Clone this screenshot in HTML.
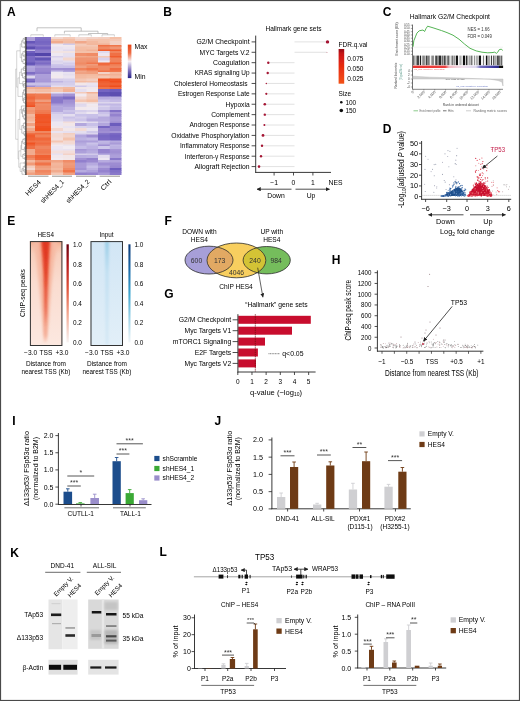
<!DOCTYPE html>
<html><head><meta charset="utf-8"><style>
html,body{margin:0;padding:0;background:#fff;}
svg{display:block;}
text{font-family:"Liberation Sans",sans-serif;}
</style></head><body>
<svg width="520" height="701" viewBox="0 0 520 701">
<defs><filter id="gblur" x="0" y="0" width="100%" height="100%"><feGaussianBlur stdDeviation="0.3"/></filter></defs>
<g filter="url(#gblur)">
<rect x="0" y="0" width="520" height="701" fill="#fff"/>
<text x="7" y="15.8" font-size="12" font-weight="bold" fill="#000">A</text>
<defs><filter id="hmb" x="-2%" y="-2%" width="104%" height="104%"><feGaussianBlur stdDeviation="0.25 0.45"/></filter></defs><g filter="url(#hmb)">
<rect x="26" y="37" width="9.6" height="2.5" fill="#aea0da"/>
<rect x="35" y="37" width="16.6" height="2.5" fill="#8271c7"/>
<rect x="26" y="39" width="9.6" height="2.5" fill="#ab9dd9"/>
<rect x="35" y="39" width="16.6" height="2.5" fill="#7c6cc5"/>
<rect x="26" y="41" width="9.6" height="3" fill="#6657b9"/>
<rect x="35" y="41" width="16.6" height="3" fill="#7665c2"/>
<rect x="26" y="43.5" width="9.6" height="2" fill="#8372c7"/>
<rect x="35" y="43.5" width="16.6" height="2" fill="#7a6ac4"/>
<rect x="26" y="45" width="9.6" height="2" fill="#8473c8"/>
<rect x="35" y="45" width="16.6" height="2" fill="#8a78ca"/>
<rect x="26" y="46.5" width="9.6" height="3.5" fill="#5b4db0"/>
<rect x="35" y="46.5" width="16.6" height="3.5" fill="#7464c2"/>
<rect x="26" y="49.5" width="9.6" height="2" fill="#c7bfe7"/>
<rect x="35" y="49.5" width="16.6" height="2" fill="#8d7bcb"/>
<rect x="26" y="51" width="9.6" height="2.5" fill="#6f5fbf"/>
<rect x="35" y="51" width="16.6" height="2.5" fill="#8d7ccb"/>
<rect x="26" y="53" width="9.6" height="3.5" fill="#5f51b4"/>
<rect x="35" y="53" width="16.6" height="3.5" fill="#5245aa"/>
<rect x="26" y="56" width="9.6" height="2" fill="#7e6dc5"/>
<rect x="35" y="56" width="16.6" height="2" fill="#9e8dd2"/>
<rect x="26" y="57.5" width="9.6" height="3.5" fill="#7868c3"/>
<rect x="35" y="57.5" width="16.6" height="3.5" fill="#6254b6"/>
<rect x="26" y="60.5" width="9.6" height="2.5" fill="#7867c3"/>
<rect x="35" y="60.5" width="16.6" height="2.5" fill="#8877c9"/>
<rect x="26" y="62.5" width="9.6" height="2" fill="#6354b6"/>
<rect x="35" y="62.5" width="16.6" height="2" fill="#7b6bc4"/>
<rect x="26" y="64" width="9.6" height="2" fill="#6859ba"/>
<rect x="35" y="64" width="16.6" height="2" fill="#8776c9"/>
<rect x="26" y="65.5" width="9.6" height="3" fill="#b4a8de"/>
<rect x="35" y="65.5" width="16.6" height="3" fill="#a697d6"/>
<rect x="26" y="68" width="9.6" height="3" fill="#afa1db"/>
<rect x="35" y="68" width="16.6" height="3" fill="#9b89d0"/>
<rect x="26" y="70.5" width="9.6" height="2" fill="#a99bd8"/>
<rect x="35" y="70.5" width="16.6" height="2" fill="#9785cf"/>
<rect x="26" y="72" width="9.6" height="2.5" fill="#7e6dc5"/>
<rect x="35" y="72" width="16.6" height="2.5" fill="#907ecc"/>
<rect x="26" y="74" width="9.6" height="2" fill="#9583ce"/>
<rect x="35" y="74" width="16.6" height="2" fill="#ad9fda"/>
<rect x="26" y="75.5" width="9.6" height="3.5" fill="#ddd6ed"/>
<rect x="35" y="75.5" width="16.6" height="3.5" fill="#ac9ed9"/>
<rect x="26" y="78.5" width="9.6" height="3" fill="#8170c6"/>
<rect x="35" y="78.5" width="16.6" height="3" fill="#a99ad8"/>
<rect x="26" y="81" width="9.6" height="2" fill="#7262c1"/>
<rect x="35" y="81" width="16.6" height="2" fill="#a798d7"/>
<rect x="26" y="82.5" width="9.6" height="3.5" fill="#cac2e8"/>
<rect x="35" y="82.5" width="16.6" height="3.5" fill="#c7bfe7"/>
<rect x="26" y="85.5" width="9.6" height="2" fill="#9d8bd1"/>
<rect x="35" y="85.5" width="16.6" height="2" fill="#b2a5dc"/>
<rect x="26" y="87" width="9.6" height="2.5" fill="#f2af93"/>
<rect x="35" y="87" width="16.6" height="2.5" fill="#f1ab8e"/>
<rect x="26" y="89" width="9.6" height="3.5" fill="#f4c3ae"/>
<rect x="35" y="89" width="16.6" height="3.5" fill="#f4bda4"/>
<rect x="26" y="92" width="9.6" height="2" fill="#f3cec0"/>
<rect x="35" y="92" width="16.6" height="2" fill="#f3cdbf"/>
<rect x="26" y="93.5" width="9.6" height="3.5" fill="#f0744a"/>
<rect x="35" y="93.5" width="16.6" height="3.5" fill="#f07b52"/>
<rect x="26" y="96.5" width="9.6" height="3.5" fill="#f0683c"/>
<rect x="35" y="96.5" width="16.6" height="3.5" fill="#f07a51"/>
<rect x="26" y="99.5" width="9.6" height="3" fill="#f0764d"/>
<rect x="35" y="99.5" width="16.6" height="3" fill="#f09c7b"/>
<rect x="26" y="102" width="9.6" height="2" fill="#f06539"/>
<rect x="35" y="102" width="16.6" height="2" fill="#f07950"/>
<rect x="26" y="103.5" width="9.6" height="2.5" fill="#f06236"/>
<rect x="35" y="103.5" width="16.6" height="2.5" fill="#f08d68"/>
<rect x="26" y="105.5" width="9.6" height="2" fill="#f05020"/>
<rect x="35" y="105.5" width="16.6" height="2" fill="#f08862"/>
<rect x="26" y="107" width="9.6" height="3.5" fill="#f09d7c"/>
<rect x="35" y="107" width="16.6" height="3.5" fill="#f08862"/>
<rect x="26" y="110" width="9.6" height="2.5" fill="#f09673"/>
<rect x="35" y="110" width="16.6" height="2.5" fill="#f07c53"/>
<rect x="26" y="112" width="9.6" height="2.5" fill="#f09b79"/>
<rect x="35" y="112" width="16.6" height="2.5" fill="#f0774e"/>
<rect x="26" y="114" width="9.6" height="3" fill="#f3b9a0"/>
<rect x="35" y="114" width="16.6" height="3" fill="#f05829"/>
<rect x="26" y="116.5" width="9.6" height="2.5" fill="#f2af93"/>
<rect x="35" y="116.5" width="16.6" height="2.5" fill="#f05728"/>
<rect x="26" y="118.5" width="9.6" height="3.5" fill="#f3b69b"/>
<rect x="35" y="118.5" width="16.6" height="3.5" fill="#f0592b"/>
<rect x="26" y="121.5" width="9.6" height="2" fill="#f4c7b4"/>
<rect x="35" y="121.5" width="16.6" height="2" fill="#f05222"/>
<rect x="26" y="123" width="9.6" height="3.5" fill="#f0a182"/>
<rect x="35" y="123" width="16.6" height="3.5" fill="#f05b2d"/>
<rect x="26" y="126" width="9.6" height="2.5" fill="#f4c2ab"/>
<rect x="35" y="126" width="16.6" height="2.5" fill="#f05122"/>
<rect x="26" y="128" width="9.6" height="3.5" fill="#f1a98b"/>
<rect x="35" y="128" width="16.6" height="3.5" fill="#f04f1f"/>
<rect x="26" y="131" width="9.6" height="2.5" fill="#f0916d"/>
<rect x="35" y="131" width="16.6" height="2.5" fill="#f08761"/>
<rect x="26" y="133" width="9.6" height="2" fill="#f07146"/>
<rect x="35" y="133" width="16.6" height="2" fill="#f06c41"/>
<rect x="26" y="134.5" width="9.6" height="3.5" fill="#f05b2d"/>
<rect x="35" y="134.5" width="16.6" height="3.5" fill="#f08159"/>
<rect x="26" y="137.5" width="9.6" height="3.5" fill="#f06235"/>
<rect x="35" y="137.5" width="16.6" height="3.5" fill="#f0673b"/>
<rect x="26" y="140.5" width="9.6" height="2.5" fill="#f07247"/>
<rect x="35" y="140.5" width="16.6" height="2.5" fill="#f0754b"/>
<rect x="26" y="142.5" width="9.6" height="2.5" fill="#f05223"/>
<rect x="35" y="142.5" width="16.6" height="2.5" fill="#f06a3f"/>
<rect x="26" y="144.5" width="9.6" height="2" fill="#f06539"/>
<rect x="35" y="144.5" width="16.6" height="2" fill="#f07950"/>
<rect x="26" y="146" width="9.6" height="3.5" fill="#f07045"/>
<rect x="35" y="146" width="16.6" height="3.5" fill="#f0855e"/>
<rect x="26" y="149" width="9.6" height="2" fill="#f1aa8d"/>
<rect x="35" y="149" width="16.6" height="2" fill="#f07c54"/>
<rect x="26" y="150.5" width="9.6" height="3.5" fill="#f1ab8e"/>
<rect x="35" y="150.5" width="16.6" height="3.5" fill="#f07a51"/>
<rect x="26" y="153.5" width="9.6" height="2" fill="#f2ac90"/>
<rect x="35" y="153.5" width="16.6" height="2" fill="#f0845d"/>
<rect x="26" y="155" width="9.6" height="3.5" fill="#f07d55"/>
<rect x="35" y="155" width="16.6" height="3.5" fill="#f06033"/>
<rect x="26" y="158" width="9.6" height="2.5" fill="#f08c67"/>
<rect x="35" y="158" width="16.6" height="2.5" fill="#f06539"/>
<rect x="26" y="160" width="9.6" height="3" fill="#f3bba2"/>
<rect x="35" y="160" width="16.6" height="3" fill="#f09573"/>
<rect x="26" y="162.5" width="9.6" height="3.5" fill="#f09a78"/>
<rect x="35" y="162.5" width="16.6" height="3.5" fill="#f07349"/>
<rect x="26" y="165.5" width="9.6" height="3" fill="#f3cdbe"/>
<rect x="35" y="165.5" width="16.6" height="3" fill="#f09b79"/>
<rect x="26" y="168" width="9.6" height="2.5" fill="#f3d9d2"/>
<rect x="35" y="168" width="16.6" height="2.5" fill="#f0a384"/>
<rect x="26" y="170" width="9.6" height="3" fill="#f3b79d"/>
<rect x="35" y="170" width="16.6" height="3" fill="#f0855e"/>
<rect x="26" y="172.5" width="9.6" height="2.5" fill="#f0a182"/>
<rect x="35" y="172.5" width="16.6" height="2.5" fill="#f0916d"/>
<rect x="51" y="37" width="12.6" height="2.5" fill="#f3d7cf"/>
<rect x="63" y="37" width="12.6" height="2.5" fill="#f4cbba"/>
<rect x="51" y="39" width="12.6" height="2.5" fill="#f4bfa6"/>
<rect x="63" y="39" width="12.6" height="2.5" fill="#f4bea6"/>
<rect x="51" y="41" width="12.6" height="3" fill="#f1ab8d"/>
<rect x="63" y="41" width="12.6" height="3" fill="#f3bba2"/>
<rect x="51" y="43.5" width="12.6" height="2" fill="#eae4f0"/>
<rect x="63" y="43.5" width="12.6" height="2" fill="#d2cbea"/>
<rect x="51" y="45" width="12.6" height="2" fill="#f2ebf0"/>
<rect x="63" y="45" width="12.6" height="2" fill="#f2e9ed"/>
<rect x="51" y="46.5" width="12.6" height="3.5" fill="#e9e2f0"/>
<rect x="63" y="46.5" width="12.6" height="3.5" fill="#ece5f1"/>
<rect x="51" y="49.5" width="12.6" height="2" fill="#ebe4f0"/>
<rect x="63" y="49.5" width="12.6" height="2" fill="#e1daee"/>
<rect x="51" y="51" width="12.6" height="2.5" fill="#f2e4e4"/>
<rect x="63" y="51" width="12.6" height="2.5" fill="#f2e3e2"/>
<rect x="51" y="53" width="12.6" height="3.5" fill="#eee8f1"/>
<rect x="63" y="53" width="12.6" height="3.5" fill="#e6e0ef"/>
<rect x="51" y="56" width="12.6" height="2" fill="#d8d0ec"/>
<rect x="63" y="56" width="12.6" height="2" fill="#e4ddef"/>
<rect x="51" y="57.5" width="12.6" height="3.5" fill="#e8e1f0"/>
<rect x="63" y="57.5" width="12.6" height="3.5" fill="#f3d7ce"/>
<rect x="51" y="60.5" width="12.6" height="2.5" fill="#dcd5ed"/>
<rect x="63" y="60.5" width="12.6" height="2.5" fill="#e3ddef"/>
<rect x="51" y="62.5" width="12.6" height="2" fill="#dfd9ee"/>
<rect x="63" y="62.5" width="12.6" height="2" fill="#d4cdeb"/>
<rect x="51" y="64" width="12.6" height="2" fill="#cec7ea"/>
<rect x="63" y="64" width="12.6" height="2" fill="#d8d0ec"/>
<rect x="51" y="65.5" width="12.6" height="3" fill="#c8bfe8"/>
<rect x="63" y="65.5" width="12.6" height="3" fill="#c7bee7"/>
<rect x="51" y="68" width="12.6" height="3" fill="#a08fd3"/>
<rect x="63" y="68" width="12.6" height="3" fill="#9e8dd2"/>
<rect x="51" y="70.5" width="12.6" height="2" fill="#cac2e8"/>
<rect x="63" y="70.5" width="12.6" height="2" fill="#b2a6dd"/>
<rect x="51" y="72" width="12.6" height="2.5" fill="#eee8f1"/>
<rect x="63" y="72" width="12.6" height="2.5" fill="#e8e2f0"/>
<rect x="51" y="74" width="12.6" height="2" fill="#efe9f1"/>
<rect x="63" y="74" width="12.6" height="2" fill="#e4deef"/>
<rect x="51" y="75.5" width="12.6" height="3.5" fill="#f2e9ed"/>
<rect x="63" y="75.5" width="12.6" height="3.5" fill="#ebe4f0"/>
<rect x="51" y="78.5" width="12.6" height="3" fill="#d4cceb"/>
<rect x="63" y="78.5" width="12.6" height="3" fill="#d7d0ec"/>
<rect x="51" y="81" width="12.6" height="2" fill="#bfb5e3"/>
<rect x="63" y="81" width="12.6" height="2" fill="#cfc8ea"/>
<rect x="51" y="82.5" width="12.6" height="3.5" fill="#d4cdeb"/>
<rect x="63" y="82.5" width="12.6" height="3.5" fill="#d5ceeb"/>
<rect x="51" y="85.5" width="12.6" height="2" fill="#e5deef"/>
<rect x="63" y="85.5" width="12.6" height="2" fill="#dfd8ed"/>
<rect x="51" y="87" width="12.6" height="2.5" fill="#f4c0a7"/>
<rect x="63" y="87" width="12.6" height="2.5" fill="#f3b9a0"/>
<rect x="51" y="89" width="12.6" height="3.5" fill="#f4c9b6"/>
<rect x="63" y="89" width="12.6" height="3.5" fill="#f2b296"/>
<rect x="51" y="92" width="12.6" height="2" fill="#e8e2f0"/>
<rect x="63" y="92" width="12.6" height="2" fill="#e1daee"/>
<rect x="51" y="93.5" width="12.6" height="3.5" fill="#afa1db"/>
<rect x="63" y="93.5" width="12.6" height="3.5" fill="#a393d5"/>
<rect x="51" y="96.5" width="12.6" height="3.5" fill="#8978ca"/>
<rect x="63" y="96.5" width="12.6" height="3.5" fill="#7c6cc5"/>
<rect x="51" y="99.5" width="12.6" height="3" fill="#8978ca"/>
<rect x="63" y="99.5" width="12.6" height="3" fill="#a190d3"/>
<rect x="51" y="102" width="12.6" height="2" fill="#8b79ca"/>
<rect x="63" y="102" width="12.6" height="2" fill="#a393d5"/>
<rect x="51" y="103.5" width="12.6" height="2.5" fill="#a798d7"/>
<rect x="63" y="103.5" width="12.6" height="2.5" fill="#aa9cd9"/>
<rect x="51" y="105.5" width="12.6" height="2" fill="#b7abdf"/>
<rect x="63" y="105.5" width="12.6" height="2" fill="#b0a3dc"/>
<rect x="51" y="107" width="12.6" height="3.5" fill="#b4a8de"/>
<rect x="63" y="107" width="12.6" height="3.5" fill="#bbb0e1"/>
<rect x="51" y="110" width="12.6" height="2.5" fill="#b6aade"/>
<rect x="63" y="110" width="12.6" height="2.5" fill="#cbc3e9"/>
<rect x="51" y="112" width="12.6" height="2.5" fill="#cfc7ea"/>
<rect x="63" y="112" width="12.6" height="2.5" fill="#c4bbe6"/>
<rect x="51" y="114" width="12.6" height="3" fill="#dbd4ec"/>
<rect x="63" y="114" width="12.6" height="3" fill="#e4deef"/>
<rect x="51" y="116.5" width="12.6" height="2.5" fill="#dcd5ed"/>
<rect x="63" y="116.5" width="12.6" height="2.5" fill="#cac2e8"/>
<rect x="51" y="118.5" width="12.6" height="3.5" fill="#e0daee"/>
<rect x="63" y="118.5" width="12.6" height="3.5" fill="#d4cceb"/>
<rect x="51" y="121.5" width="12.6" height="2" fill="#ede7f1"/>
<rect x="63" y="121.5" width="12.6" height="2" fill="#f3dedb"/>
<rect x="51" y="123" width="12.6" height="3.5" fill="#ede6f1"/>
<rect x="63" y="123" width="12.6" height="3.5" fill="#f2e6e8"/>
<rect x="51" y="126" width="12.6" height="2.5" fill="#f2e7ea"/>
<rect x="63" y="126" width="12.6" height="2.5" fill="#eae3f0"/>
<rect x="51" y="128" width="12.6" height="3.5" fill="#f3d6ce"/>
<rect x="63" y="128" width="12.6" height="3.5" fill="#f2e7e9"/>
<rect x="51" y="131" width="12.6" height="2.5" fill="#eae4f0"/>
<rect x="63" y="131" width="12.6" height="2.5" fill="#e7e0ef"/>
<rect x="51" y="133" width="12.6" height="2" fill="#f3dad4"/>
<rect x="63" y="133" width="12.6" height="2" fill="#f3cebf"/>
<rect x="51" y="134.5" width="12.6" height="3.5" fill="#f3d9d2"/>
<rect x="63" y="134.5" width="12.6" height="3.5" fill="#f3d4c9"/>
<rect x="51" y="137.5" width="12.6" height="3.5" fill="#f3deda"/>
<rect x="63" y="137.5" width="12.6" height="3.5" fill="#f4c3ad"/>
<rect x="51" y="140.5" width="12.6" height="2.5" fill="#f4c6b3"/>
<rect x="63" y="140.5" width="12.6" height="2.5" fill="#f3d9d2"/>
<rect x="51" y="142.5" width="12.6" height="2.5" fill="#f3dfdd"/>
<rect x="63" y="142.5" width="12.6" height="2.5" fill="#f3dad3"/>
<rect x="51" y="144.5" width="12.6" height="2" fill="#f2eaef"/>
<rect x="63" y="144.5" width="12.6" height="2" fill="#ebe5f0"/>
<rect x="51" y="146" width="12.6" height="3.5" fill="#ede6f1"/>
<rect x="63" y="146" width="12.6" height="3.5" fill="#f2ecf2"/>
<rect x="51" y="149" width="12.6" height="2" fill="#ebe4f0"/>
<rect x="63" y="149" width="12.6" height="2" fill="#e9e2f0"/>
<rect x="51" y="150.5" width="12.6" height="3.5" fill="#f3dfdd"/>
<rect x="63" y="150.5" width="12.6" height="3.5" fill="#f3ddda"/>
<rect x="51" y="153.5" width="12.6" height="2" fill="#e8e1f0"/>
<rect x="63" y="153.5" width="12.6" height="2" fill="#f3d2c7"/>
<rect x="51" y="155" width="12.6" height="3.5" fill="#f2e8ec"/>
<rect x="63" y="155" width="12.6" height="3.5" fill="#f2e6e7"/>
<rect x="51" y="158" width="12.6" height="2.5" fill="#f2ebf0"/>
<rect x="63" y="158" width="12.6" height="2.5" fill="#f2e7e9"/>
<rect x="51" y="160" width="12.6" height="3" fill="#f1a485"/>
<rect x="63" y="160" width="12.6" height="3" fill="#f08c67"/>
<rect x="51" y="162.5" width="12.6" height="3.5" fill="#f3b69c"/>
<rect x="63" y="162.5" width="12.6" height="3.5" fill="#f09b7a"/>
<rect x="51" y="165.5" width="12.6" height="3" fill="#f2b297"/>
<rect x="63" y="165.5" width="12.6" height="3" fill="#f09673"/>
<rect x="51" y="168" width="12.6" height="2.5" fill="#f3baa0"/>
<rect x="63" y="168" width="12.6" height="2.5" fill="#f08963"/>
<rect x="51" y="170" width="12.6" height="3" fill="#f1ab8e"/>
<rect x="63" y="170" width="12.6" height="3" fill="#f0744a"/>
<rect x="51" y="172.5" width="12.6" height="2.5" fill="#f4c7b4"/>
<rect x="63" y="172.5" width="12.6" height="2.5" fill="#f0a080"/>
<rect x="75" y="37" width="12.1" height="2.5" fill="#f3dad3"/>
<rect x="86.5" y="37" width="12.1" height="2.5" fill="#f3d3c8"/>
<rect x="75" y="39" width="12.1" height="2.5" fill="#f3d1c5"/>
<rect x="86.5" y="39" width="12.1" height="2.5" fill="#f4c3ad"/>
<rect x="75" y="41" width="12.1" height="3" fill="#f1a88a"/>
<rect x="86.5" y="41" width="12.1" height="3" fill="#f3b99f"/>
<rect x="75" y="43.5" width="12.1" height="2" fill="#f4cab8"/>
<rect x="86.5" y="43.5" width="12.1" height="2" fill="#f3b79c"/>
<rect x="75" y="45" width="12.1" height="2" fill="#f4c9b6"/>
<rect x="86.5" y="45" width="12.1" height="2" fill="#f4c8b5"/>
<rect x="75" y="46.5" width="12.1" height="3.5" fill="#f4bea5"/>
<rect x="86.5" y="46.5" width="12.1" height="3.5" fill="#f4c0a8"/>
<rect x="75" y="49.5" width="12.1" height="2" fill="#f3bba2"/>
<rect x="86.5" y="49.5" width="12.1" height="2" fill="#f2b195"/>
<rect x="75" y="51" width="12.1" height="2.5" fill="#f4c1a9"/>
<rect x="86.5" y="51" width="12.1" height="2.5" fill="#f4c1aa"/>
<rect x="75" y="53" width="12.1" height="3.5" fill="#f0906c"/>
<rect x="86.5" y="53" width="12.1" height="3.5" fill="#f08b65"/>
<rect x="75" y="56" width="12.1" height="2" fill="#f1a98b"/>
<rect x="86.5" y="56" width="12.1" height="2" fill="#f1a586"/>
<rect x="75" y="57.5" width="12.1" height="3.5" fill="#f09471"/>
<rect x="86.5" y="57.5" width="12.1" height="3.5" fill="#f09573"/>
<rect x="75" y="60.5" width="12.1" height="2.5" fill="#f0936f"/>
<rect x="86.5" y="60.5" width="12.1" height="2.5" fill="#f08e6a"/>
<rect x="75" y="62.5" width="12.1" height="2" fill="#f08b65"/>
<rect x="86.5" y="62.5" width="12.1" height="2" fill="#f0784f"/>
<rect x="75" y="64" width="12.1" height="2" fill="#f0916d"/>
<rect x="86.5" y="64" width="12.1" height="2" fill="#f09b7a"/>
<rect x="75" y="65.5" width="12.1" height="3" fill="#f0a182"/>
<rect x="86.5" y="65.5" width="12.1" height="3" fill="#f08f6a"/>
<rect x="75" y="68" width="12.1" height="3" fill="#f0845c"/>
<rect x="86.5" y="68" width="12.1" height="3" fill="#f0774e"/>
<rect x="75" y="70.5" width="12.1" height="2" fill="#f1a88b"/>
<rect x="86.5" y="70.5" width="12.1" height="2" fill="#f09a79"/>
<rect x="75" y="72" width="12.1" height="2.5" fill="#f0a283"/>
<rect x="86.5" y="72" width="12.1" height="2.5" fill="#f09f7e"/>
<rect x="75" y="74" width="12.1" height="2" fill="#f3b79c"/>
<rect x="86.5" y="74" width="12.1" height="2" fill="#f3b99f"/>
<rect x="75" y="75.5" width="12.1" height="3.5" fill="#f3bba2"/>
<rect x="86.5" y="75.5" width="12.1" height="3.5" fill="#f4bfa6"/>
<rect x="75" y="78.5" width="12.1" height="3" fill="#f4c7b4"/>
<rect x="86.5" y="78.5" width="12.1" height="3" fill="#f3cec0"/>
<rect x="75" y="81" width="12.1" height="2" fill="#f3baa1"/>
<rect x="86.5" y="81" width="12.1" height="2" fill="#f4bfa7"/>
<rect x="75" y="82.5" width="12.1" height="3.5" fill="#f2e7e9"/>
<rect x="86.5" y="82.5" width="12.1" height="3.5" fill="#eae4f0"/>
<rect x="75" y="85.5" width="12.1" height="2" fill="#cfc8ea"/>
<rect x="86.5" y="85.5" width="12.1" height="2" fill="#e4ddef"/>
<rect x="75" y="87" width="12.1" height="2.5" fill="#f2e7e9"/>
<rect x="86.5" y="87" width="12.1" height="2.5" fill="#f2e8eb"/>
<rect x="75" y="89" width="12.1" height="3.5" fill="#e6dfef"/>
<rect x="86.5" y="89" width="12.1" height="3.5" fill="#f0eaf1"/>
<rect x="75" y="92" width="12.1" height="2" fill="#f4cbba"/>
<rect x="86.5" y="92" width="12.1" height="2" fill="#f2b297"/>
<rect x="75" y="93.5" width="12.1" height="3.5" fill="#f2eaef"/>
<rect x="86.5" y="93.5" width="12.1" height="3.5" fill="#f3cfc1"/>
<rect x="75" y="96.5" width="12.1" height="3.5" fill="#f3d8d1"/>
<rect x="86.5" y="96.5" width="12.1" height="3.5" fill="#f4caba"/>
<rect x="75" y="99.5" width="12.1" height="3" fill="#f4c6b2"/>
<rect x="86.5" y="99.5" width="12.1" height="3" fill="#f4bda4"/>
<rect x="75" y="102" width="12.1" height="2" fill="#f2e2e1"/>
<rect x="86.5" y="102" width="12.1" height="2" fill="#f3dbd5"/>
<rect x="75" y="103.5" width="12.1" height="2.5" fill="#dfd8ed"/>
<rect x="86.5" y="103.5" width="12.1" height="2.5" fill="#f0eaf1"/>
<rect x="75" y="105.5" width="12.1" height="2" fill="#e3dcee"/>
<rect x="86.5" y="105.5" width="12.1" height="2" fill="#f2e8eb"/>
<rect x="75" y="107" width="12.1" height="3.5" fill="#f2e9ed"/>
<rect x="86.5" y="107" width="12.1" height="3.5" fill="#f0eaf2"/>
<rect x="75" y="110" width="12.1" height="2.5" fill="#d5ceeb"/>
<rect x="86.5" y="110" width="12.1" height="2.5" fill="#dcd5ed"/>
<rect x="75" y="112" width="12.1" height="2.5" fill="#e1daee"/>
<rect x="86.5" y="112" width="12.1" height="2.5" fill="#ede7f1"/>
<rect x="75" y="114" width="12.1" height="3" fill="#cac3e9"/>
<rect x="86.5" y="114" width="12.1" height="3" fill="#c8c0e8"/>
<rect x="75" y="116.5" width="12.1" height="2.5" fill="#d6ceeb"/>
<rect x="86.5" y="116.5" width="12.1" height="2.5" fill="#c6bee7"/>
<rect x="75" y="118.5" width="12.1" height="3.5" fill="#ccc4e9"/>
<rect x="86.5" y="118.5" width="12.1" height="3.5" fill="#b7abdf"/>
<rect x="75" y="121.5" width="12.1" height="2" fill="#ebe5f0"/>
<rect x="86.5" y="121.5" width="12.1" height="2" fill="#e2dbee"/>
<rect x="75" y="123" width="12.1" height="3.5" fill="#b3a7dd"/>
<rect x="86.5" y="123" width="12.1" height="3.5" fill="#c8c0e8"/>
<rect x="75" y="126" width="12.1" height="2.5" fill="#dad3ec"/>
<rect x="86.5" y="126" width="12.1" height="2.5" fill="#d5ceeb"/>
<rect x="75" y="128" width="12.1" height="3.5" fill="#f3dbd5"/>
<rect x="86.5" y="128" width="12.1" height="3.5" fill="#e8e2f0"/>
<rect x="75" y="131" width="12.1" height="2.5" fill="#e4deef"/>
<rect x="86.5" y="131" width="12.1" height="2.5" fill="#d0c9ea"/>
<rect x="75" y="133" width="12.1" height="2" fill="#dcd5ed"/>
<rect x="86.5" y="133" width="12.1" height="2" fill="#dcd5ed"/>
<rect x="75" y="134.5" width="12.1" height="3.5" fill="#b3a6dd"/>
<rect x="86.5" y="134.5" width="12.1" height="3.5" fill="#9f8ed2"/>
<rect x="75" y="137.5" width="12.1" height="3.5" fill="#bbb1e1"/>
<rect x="86.5" y="137.5" width="12.1" height="3.5" fill="#c2b8e5"/>
<rect x="75" y="140.5" width="12.1" height="2.5" fill="#ac9ed9"/>
<rect x="86.5" y="140.5" width="12.1" height="2.5" fill="#ac9eda"/>
<rect x="75" y="142.5" width="12.1" height="2.5" fill="#b6abdf"/>
<rect x="86.5" y="142.5" width="12.1" height="2.5" fill="#cbc3e9"/>
<rect x="75" y="144.5" width="12.1" height="2" fill="#bcb1e2"/>
<rect x="86.5" y="144.5" width="12.1" height="2" fill="#c0b7e4"/>
<rect x="75" y="146" width="12.1" height="3.5" fill="#c5bde7"/>
<rect x="86.5" y="146" width="12.1" height="3.5" fill="#bcb1e2"/>
<rect x="75" y="149" width="12.1" height="2" fill="#a596d6"/>
<rect x="86.5" y="149" width="12.1" height="2" fill="#b1a4dc"/>
<rect x="75" y="150.5" width="12.1" height="3.5" fill="#ada0da"/>
<rect x="86.5" y="150.5" width="12.1" height="3.5" fill="#b7acdf"/>
<rect x="75" y="153.5" width="12.1" height="2" fill="#d6ceeb"/>
<rect x="86.5" y="153.5" width="12.1" height="2" fill="#d1c9ea"/>
<rect x="75" y="155" width="12.1" height="3.5" fill="#b8ade0"/>
<rect x="86.5" y="155" width="12.1" height="3.5" fill="#bbb1e1"/>
<rect x="75" y="158" width="12.1" height="2.5" fill="#a291d4"/>
<rect x="86.5" y="158" width="12.1" height="2.5" fill="#9583ce"/>
<rect x="75" y="160" width="12.1" height="3" fill="#917fcd"/>
<rect x="86.5" y="160" width="12.1" height="3" fill="#9b89d0"/>
<rect x="75" y="162.5" width="12.1" height="3.5" fill="#a899d7"/>
<rect x="86.5" y="162.5" width="12.1" height="3.5" fill="#b6aadf"/>
<rect x="75" y="165.5" width="12.1" height="3" fill="#a99ad8"/>
<rect x="86.5" y="165.5" width="12.1" height="3" fill="#c6bde7"/>
<rect x="75" y="168" width="12.1" height="2.5" fill="#a292d4"/>
<rect x="86.5" y="168" width="12.1" height="2.5" fill="#bcb1e2"/>
<rect x="75" y="170" width="12.1" height="3" fill="#b7acdf"/>
<rect x="86.5" y="170" width="12.1" height="3" fill="#afa2db"/>
<rect x="75" y="172.5" width="12.1" height="2.5" fill="#9381cd"/>
<rect x="86.5" y="172.5" width="12.1" height="2.5" fill="#9886cf"/>
<rect x="98" y="37" width="12.35" height="2.5" fill="#f3cfc1"/>
<rect x="109.75" y="37" width="11.75" height="2.5" fill="#f4c1a9"/>
<rect x="98" y="39" width="12.35" height="2.5" fill="#f4c4ae"/>
<rect x="109.75" y="39" width="11.75" height="2.5" fill="#f4c9b7"/>
<rect x="98" y="41" width="12.35" height="3" fill="#f4c3ac"/>
<rect x="109.75" y="41" width="11.75" height="3" fill="#f3d2c6"/>
<rect x="98" y="43.5" width="12.35" height="2" fill="#f2b297"/>
<rect x="109.75" y="43.5" width="11.75" height="2" fill="#f3d2c6"/>
<rect x="98" y="45" width="12.35" height="2" fill="#f07045"/>
<rect x="109.75" y="45" width="11.75" height="2" fill="#f0764c"/>
<rect x="98" y="46.5" width="12.35" height="3.5" fill="#f08964"/>
<rect x="109.75" y="46.5" width="11.75" height="3.5" fill="#f09674"/>
<rect x="98" y="49.5" width="12.35" height="2" fill="#f05e30"/>
<rect x="109.75" y="49.5" width="11.75" height="2" fill="#f05d2f"/>
<rect x="98" y="51" width="12.35" height="2.5" fill="#e1daee"/>
<rect x="109.75" y="51" width="11.75" height="2.5" fill="#f0845d"/>
<rect x="98" y="53" width="12.35" height="3.5" fill="#ede6f1"/>
<rect x="109.75" y="53" width="11.75" height="3.5" fill="#f06f44"/>
<rect x="98" y="56" width="12.35" height="2" fill="#f4c9b7"/>
<rect x="109.75" y="56" width="11.75" height="2" fill="#f05b2d"/>
<rect x="98" y="57.5" width="12.35" height="3.5" fill="#d9d1ec"/>
<rect x="109.75" y="57.5" width="11.75" height="3.5" fill="#f0835c"/>
<rect x="98" y="60.5" width="12.35" height="2.5" fill="#efe9f1"/>
<rect x="109.75" y="60.5" width="11.75" height="2.5" fill="#f0835c"/>
<rect x="98" y="62.5" width="12.35" height="2" fill="#f0693d"/>
<rect x="109.75" y="62.5" width="11.75" height="2" fill="#f06336"/>
<rect x="98" y="64" width="12.35" height="2" fill="#f06b3f"/>
<rect x="109.75" y="64" width="11.75" height="2" fill="#f07c53"/>
<rect x="98" y="65.5" width="12.35" height="3" fill="#f08a65"/>
<rect x="109.75" y="65.5" width="11.75" height="3" fill="#f08862"/>
<rect x="98" y="68" width="12.35" height="3" fill="#f08963"/>
<rect x="109.75" y="68" width="11.75" height="3" fill="#f06b40"/>
<rect x="98" y="70.5" width="12.35" height="2" fill="#f07248"/>
<rect x="109.75" y="70.5" width="11.75" height="2" fill="#f07950"/>
<rect x="98" y="72" width="12.35" height="2.5" fill="#f3d1c5"/>
<rect x="109.75" y="72" width="11.75" height="2.5" fill="#f3bba2"/>
<rect x="98" y="74" width="12.35" height="2" fill="#f2ad90"/>
<rect x="109.75" y="74" width="11.75" height="2" fill="#f2b195"/>
<rect x="98" y="75.5" width="12.35" height="3.5" fill="#f4c6b2"/>
<rect x="109.75" y="75.5" width="11.75" height="3.5" fill="#f4bca3"/>
<rect x="98" y="78.5" width="12.35" height="3" fill="#f05121"/>
<rect x="109.75" y="78.5" width="11.75" height="3" fill="#f05526"/>
<rect x="98" y="81" width="12.35" height="2" fill="#f05b2d"/>
<rect x="109.75" y="81" width="11.75" height="2" fill="#f04e1e"/>
<rect x="98" y="82.5" width="12.35" height="3.5" fill="#f06538"/>
<rect x="109.75" y="82.5" width="11.75" height="3.5" fill="#f06033"/>
<rect x="98" y="85.5" width="12.35" height="2" fill="#f05b2d"/>
<rect x="109.75" y="85.5" width="11.75" height="2" fill="#f04e1e"/>
<rect x="98" y="87" width="12.35" height="2.5" fill="#f0744a"/>
<rect x="109.75" y="87" width="11.75" height="2.5" fill="#f06b40"/>
<rect x="98" y="89" width="12.35" height="3.5" fill="#7565c2"/>
<rect x="109.75" y="89" width="11.75" height="3.5" fill="#6c5cbd"/>
<rect x="98" y="92" width="12.35" height="2" fill="#6153b5"/>
<rect x="109.75" y="92" width="11.75" height="2" fill="#5d4fb2"/>
<rect x="98" y="93.5" width="12.35" height="3.5" fill="#6354b6"/>
<rect x="109.75" y="93.5" width="11.75" height="3.5" fill="#5b4db0"/>
<rect x="98" y="96.5" width="12.35" height="3.5" fill="#b7abdf"/>
<rect x="109.75" y="96.5" width="11.75" height="3.5" fill="#b9aee0"/>
<rect x="98" y="99.5" width="12.35" height="3" fill="#cbc3e9"/>
<rect x="109.75" y="99.5" width="11.75" height="3" fill="#c3b9e5"/>
<rect x="98" y="102" width="12.35" height="2" fill="#ddd6ed"/>
<rect x="109.75" y="102" width="11.75" height="2" fill="#ded7ed"/>
<rect x="98" y="103.5" width="12.35" height="2.5" fill="#c3bae6"/>
<rect x="109.75" y="103.5" width="11.75" height="2.5" fill="#c1b7e4"/>
<rect x="98" y="105.5" width="12.35" height="2" fill="#dcd5ed"/>
<rect x="109.75" y="105.5" width="11.75" height="2" fill="#cac2e9"/>
<rect x="98" y="107" width="12.35" height="3.5" fill="#d0c9ea"/>
<rect x="109.75" y="107" width="11.75" height="3.5" fill="#c3bae5"/>
<rect x="98" y="110" width="12.35" height="2.5" fill="#b1a4dc"/>
<rect x="109.75" y="110" width="11.75" height="2.5" fill="#8271c7"/>
<rect x="98" y="112" width="12.35" height="2.5" fill="#cac2e9"/>
<rect x="109.75" y="112" width="11.75" height="2.5" fill="#a393d5"/>
<rect x="98" y="114" width="12.35" height="3" fill="#d3cceb"/>
<rect x="109.75" y="114" width="11.75" height="3" fill="#9482ce"/>
<rect x="98" y="116.5" width="12.35" height="2.5" fill="#b6aadf"/>
<rect x="109.75" y="116.5" width="11.75" height="2.5" fill="#a899d7"/>
<rect x="98" y="118.5" width="12.35" height="3.5" fill="#b8acdf"/>
<rect x="109.75" y="118.5" width="11.75" height="3.5" fill="#a99ad8"/>
<rect x="98" y="121.5" width="12.35" height="2" fill="#c5bce6"/>
<rect x="109.75" y="121.5" width="11.75" height="2" fill="#9e8dd2"/>
<rect x="98" y="123" width="12.35" height="3.5" fill="#b2a6dd"/>
<rect x="109.75" y="123" width="11.75" height="3.5" fill="#6c5dbd"/>
<rect x="98" y="126" width="12.35" height="2.5" fill="#7666c2"/>
<rect x="109.75" y="126" width="11.75" height="2.5" fill="#8f7dcc"/>
<rect x="98" y="128" width="12.35" height="3.5" fill="#9b89d1"/>
<rect x="109.75" y="128" width="11.75" height="3.5" fill="#907fcc"/>
<rect x="98" y="131" width="12.35" height="2.5" fill="#a08fd3"/>
<rect x="109.75" y="131" width="11.75" height="2.5" fill="#a393d5"/>
<rect x="98" y="133" width="12.35" height="2" fill="#8776c9"/>
<rect x="109.75" y="133" width="11.75" height="2" fill="#7c6bc4"/>
<rect x="98" y="134.5" width="12.35" height="3.5" fill="#7868c3"/>
<rect x="109.75" y="134.5" width="11.75" height="3.5" fill="#7261c1"/>
<rect x="98" y="137.5" width="12.35" height="3.5" fill="#7c6bc5"/>
<rect x="109.75" y="137.5" width="11.75" height="3.5" fill="#7564c2"/>
<rect x="98" y="140.5" width="12.35" height="2.5" fill="#c1b8e4"/>
<rect x="109.75" y="140.5" width="11.75" height="2.5" fill="#b6abdf"/>
<rect x="98" y="142.5" width="12.35" height="2.5" fill="#bbb0e1"/>
<rect x="109.75" y="142.5" width="11.75" height="2.5" fill="#a99bd8"/>
<rect x="98" y="144.5" width="12.35" height="2" fill="#a08fd3"/>
<rect x="109.75" y="144.5" width="11.75" height="2" fill="#c0b6e4"/>
<rect x="98" y="146" width="12.35" height="3.5" fill="#cec7ea"/>
<rect x="109.75" y="146" width="11.75" height="3.5" fill="#bbb1e1"/>
<rect x="98" y="149" width="12.35" height="2" fill="#9583ce"/>
<rect x="109.75" y="149" width="11.75" height="2" fill="#a696d6"/>
<rect x="98" y="150.5" width="12.35" height="3.5" fill="#9785cf"/>
<rect x="109.75" y="150.5" width="11.75" height="3.5" fill="#a190d3"/>
<rect x="98" y="153.5" width="12.35" height="2" fill="#b6abdf"/>
<rect x="109.75" y="153.5" width="11.75" height="2" fill="#aa9bd8"/>
<rect x="98" y="155" width="12.35" height="3.5" fill="#e4ddef"/>
<rect x="109.75" y="155" width="11.75" height="3.5" fill="#ad9fda"/>
<rect x="98" y="158" width="12.35" height="2.5" fill="#ede7f1"/>
<rect x="109.75" y="158" width="11.75" height="2.5" fill="#8978ca"/>
<rect x="98" y="160" width="12.35" height="3" fill="#b7abdf"/>
<rect x="109.75" y="160" width="11.75" height="3" fill="#afa1db"/>
<rect x="98" y="162.5" width="12.35" height="3.5" fill="#9f8ed3"/>
<rect x="109.75" y="162.5" width="11.75" height="3.5" fill="#9d8cd2"/>
<rect x="98" y="165.5" width="12.35" height="3" fill="#afa2db"/>
<rect x="109.75" y="165.5" width="11.75" height="3" fill="#9887cf"/>
<rect x="98" y="168" width="12.35" height="2.5" fill="#9b8ad1"/>
<rect x="109.75" y="168" width="11.75" height="2.5" fill="#6d5dbe"/>
<rect x="98" y="170" width="12.35" height="3" fill="#9583ce"/>
<rect x="109.75" y="170" width="11.75" height="3" fill="#8171c7"/>
<rect x="98" y="172.5" width="12.35" height="2.5" fill="#a798d7"/>
<rect x="109.75" y="172.5" width="11.75" height="2.5" fill="#8a79ca"/>
</g>
<line x1="37" y1="27.8" x2="81.2" y2="27.8" stroke="#a8a8a8" stroke-width="0.7"/>
<line x1="37" y1="27.8" x2="37" y2="31.2" stroke="#a8a8a8" stroke-width="0.7"/>
<line x1="81.2" y1="27.8" x2="81.2" y2="31.2" stroke="#a8a8a8" stroke-width="0.7"/>
<line x1="64.4" y1="31.2" x2="98" y2="31.2" stroke="#a8a8a8" stroke-width="0.7"/>
<line x1="64.4" y1="31.2" x2="64.4" y2="33.5" stroke="#a8a8a8" stroke-width="0.7"/>
<line x1="98" y1="31.2" x2="98" y2="33.5" stroke="#a8a8a8" stroke-width="0.7"/>
<line x1="88.5" y1="33.5" x2="107.7" y2="33.5" stroke="#a8a8a8" stroke-width="0.7"/>
<line x1="88.5" y1="33.5" x2="88.5" y2="34.7" stroke="#a8a8a8" stroke-width="0.7"/>
<line x1="107.7" y1="33.5" x2="107.7" y2="34.7" stroke="#a8a8a8" stroke-width="0.7"/>
<line x1="30.8" y1="34.8" x2="43.3" y2="34.8" stroke="#a8a8a8" stroke-width="0.6"/>
<line x1="30.8" y1="34.8" x2="30.8" y2="36.6" stroke="#a8a8a8" stroke-width="0.5"/>
<line x1="43.3" y1="34.8" x2="43.3" y2="36.6" stroke="#a8a8a8" stroke-width="0.5"/>
<line x1="54.8" y1="34.8" x2="70.2" y2="34.8" stroke="#a8a8a8" stroke-width="0.6"/>
<line x1="54.8" y1="34.8" x2="54.8" y2="36.6" stroke="#a8a8a8" stroke-width="0.5"/>
<line x1="70.2" y1="34.8" x2="70.2" y2="36.6" stroke="#a8a8a8" stroke-width="0.5"/>
<line x1="78.8" y1="34.8" x2="91.3" y2="34.8" stroke="#a8a8a8" stroke-width="0.6"/>
<line x1="78.8" y1="34.8" x2="78.8" y2="36.6" stroke="#a8a8a8" stroke-width="0.5"/>
<line x1="91.3" y1="34.8" x2="91.3" y2="36.6" stroke="#a8a8a8" stroke-width="0.5"/>
<line x1="102" y1="34.8" x2="114.4" y2="34.8" stroke="#a8a8a8" stroke-width="0.6"/>
<line x1="102" y1="34.8" x2="102" y2="36.6" stroke="#a8a8a8" stroke-width="0.5"/>
<line x1="114.4" y1="34.8" x2="114.4" y2="36.6" stroke="#a8a8a8" stroke-width="0.5"/>
<path d="M25.6,37.8 L24.28,37.8 L24.28,39.56 L25.6,39.56" fill="none" stroke="#7a7a7a" stroke-width="0.45"/>
<path d="M25.6,41.85 L24.43,41.85 L24.43,44.09 L25.6,44.09" fill="none" stroke="#7a7a7a" stroke-width="0.45"/>
<path d="M25.6,46.17 L24.42,46.17 L24.42,47.98 L25.6,47.98" fill="none" stroke="#7a7a7a" stroke-width="0.45"/>
<path d="M25.6,50.38 L24.91,50.38 L24.91,52.79 L25.6,52.79" fill="none" stroke="#7a7a7a" stroke-width="0.45"/>
<path d="M25.6,54.9 L24.08,54.9 L24.08,57 L25.6,57" fill="none" stroke="#7a7a7a" stroke-width="0.45"/>
<path d="M25.6,58.84 L24.44,58.84 L24.44,60.44 L25.6,60.44" fill="none" stroke="#7a7a7a" stroke-width="0.45"/>
<path d="M25.6,62.41 L24.99,62.41 L24.99,64.6 L25.6,64.6" fill="none" stroke="#7a7a7a" stroke-width="0.45"/>
<path d="M25.6,66.27 L24.2,66.27 L24.2,68.66 L25.6,68.66" fill="none" stroke="#7a7a7a" stroke-width="0.45"/>
<path d="M25.6,72.33 L24.35,72.33 L24.35,73.97 L25.6,73.97" fill="none" stroke="#7a7a7a" stroke-width="0.45"/>
<path d="M25.6,76.57 L24.11,76.57 L24.11,78.91 L25.6,78.91" fill="none" stroke="#7a7a7a" stroke-width="0.45"/>
<path d="M25.6,83.6 L24.01,83.6 L24.01,85.23 L25.6,85.23" fill="none" stroke="#7a7a7a" stroke-width="0.45"/>
<path d="M25.6,89.26 L24.13,89.26 L24.13,90.97 L25.6,90.97" fill="none" stroke="#7a7a7a" stroke-width="0.45"/>
<path d="M25.6,93.52 L24.69,93.52 L24.69,95.49 L25.6,95.49" fill="none" stroke="#7a7a7a" stroke-width="0.45"/>
<path d="M25.6,97.25 L24.14,97.25 L24.14,99.67 L25.6,99.67" fill="none" stroke="#7a7a7a" stroke-width="0.45"/>
<path d="M25.6,101.39 L25.02,101.39 L25.02,103.92 L25.6,103.92" fill="none" stroke="#7a7a7a" stroke-width="0.45"/>
<path d="M25.6,110.07 L24.18,110.07 L24.18,112.15 L25.6,112.15" fill="none" stroke="#7a7a7a" stroke-width="0.45"/>
<path d="M25.6,113.94 L24.82,113.94 L24.82,115.57 L25.6,115.57" fill="none" stroke="#7a7a7a" stroke-width="0.45"/>
<path d="M25.6,118.04 L24.64,118.04 L24.64,119.88 L25.6,119.88" fill="none" stroke="#7a7a7a" stroke-width="0.45"/>
<path d="M25.6,122.26 L25.02,122.26 L25.02,124.06 L25.6,124.06" fill="none" stroke="#7a7a7a" stroke-width="0.45"/>
<path d="M25.6,126.63 L24.11,126.63 L24.11,129.13 L25.6,129.13" fill="none" stroke="#7a7a7a" stroke-width="0.45"/>
<path d="M25.6,133.84 L24.57,133.84 L24.57,136.03 L25.6,136.03" fill="none" stroke="#7a7a7a" stroke-width="0.45"/>
<path d="M25.6,138.36 L24.05,138.36 L24.05,140.08 L25.6,140.08" fill="none" stroke="#7a7a7a" stroke-width="0.45"/>
<path d="M25.6,142.15 L24.3,142.15 L24.3,144.58 L25.6,144.58" fill="none" stroke="#7a7a7a" stroke-width="0.45"/>
<path d="M25.6,146.38 L24.87,146.38 L24.87,148.91 L25.6,148.91" fill="none" stroke="#7a7a7a" stroke-width="0.45"/>
<path d="M25.6,157.42 L24.63,157.42 L24.63,159.4 L25.6,159.4" fill="none" stroke="#7a7a7a" stroke-width="0.45"/>
<path d="M25.6,162 L24.17,162 L24.17,163.99 L25.6,163.99" fill="none" stroke="#7a7a7a" stroke-width="0.45"/>
<path d="M25.6,165.61 L24.51,165.61 L24.51,167.31 L25.6,167.31" fill="none" stroke="#7a7a7a" stroke-width="0.45"/>
<path d="M25.6,169.62 L24.25,169.62 L24.25,172.22 L25.6,172.22" fill="none" stroke="#7a7a7a" stroke-width="0.45"/>
<path d="M24.28,38.68 L23.02,38.68 L23.02,42.97 L24.43,42.97" fill="none" stroke="#7a7a7a" stroke-width="0.45"/>
<path d="M24.91,51.58 L22.93,51.58 L22.93,55.95 L24.08,55.95" fill="none" stroke="#7a7a7a" stroke-width="0.45"/>
<path d="M24.44,59.64 L23.01,59.64 L23.01,63.51 L24.99,63.51" fill="none" stroke="#7a7a7a" stroke-width="0.45"/>
<path d="M24.2,67.46 L23.42,67.46 L23.42,70.49 L25.6,70.49" fill="none" stroke="#7a7a7a" stroke-width="0.45"/>
<path d="M24.35,73.15 L22.56,73.15 L22.56,77.74 L24.11,77.74" fill="none" stroke="#7a7a7a" stroke-width="0.45"/>
<path d="M24.01,84.41 L23.41,84.41 L23.41,87.16 L25.6,87.16" fill="none" stroke="#7a7a7a" stroke-width="0.45"/>
<path d="M24.13,90.11 L23.6,90.11 L23.6,94.51 L24.69,94.51" fill="none" stroke="#7a7a7a" stroke-width="0.45"/>
<path d="M24.14,98.46 L23.48,98.46 L23.48,102.65 L25.02,102.65" fill="none" stroke="#7a7a7a" stroke-width="0.45"/>
<path d="M25.6,108.12 L23.54,108.12 L23.54,111.11 L24.18,111.11" fill="none" stroke="#7a7a7a" stroke-width="0.45"/>
<path d="M24.82,114.76 L23.78,114.76 L23.78,118.96 L24.64,118.96" fill="none" stroke="#7a7a7a" stroke-width="0.45"/>
<path d="M25.02,123.16 L23.37,123.16 L23.37,127.88 L24.11,127.88" fill="none" stroke="#7a7a7a" stroke-width="0.45"/>
<path d="M25.6,131.48 L23.87,131.48 L23.87,134.93 L24.57,134.93" fill="none" stroke="#7a7a7a" stroke-width="0.45"/>
<path d="M24.05,139.22 L22.76,139.22 L22.76,143.37 L24.3,143.37" fill="none" stroke="#7a7a7a" stroke-width="0.45"/>
<path d="M24.87,147.64 L24.32,147.64 L24.32,151.39 L25.6,151.39" fill="none" stroke="#7a7a7a" stroke-width="0.45"/>
<path d="M25.6,153.4 L24.14,153.4 L24.14,155.37 L25.6,155.37" fill="none" stroke="#7a7a7a" stroke-width="0.45"/>
<path d="M24.51,166.46 L23.24,166.46 L23.24,170.92 L24.25,170.92" fill="none" stroke="#7a7a7a" stroke-width="0.45"/>
<path d="M23.02,40.83 L21.68,40.83 L21.68,47.08 L24.42,47.08" fill="none" stroke="#7a7a7a" stroke-width="0.45"/>
<path d="M22.93,53.77 L21.64,53.77 L21.64,61.57 L23.01,61.57" fill="none" stroke="#7a7a7a" stroke-width="0.45"/>
<path d="M23.42,68.98 L21.29,68.98 L21.29,75.44 L22.56,75.44" fill="none" stroke="#7a7a7a" stroke-width="0.45"/>
<path d="M25.6,81.38 L22.86,81.38 L22.86,85.79 L23.41,85.79" fill="none" stroke="#7a7a7a" stroke-width="0.45"/>
<path d="M23.6,92.31 L22.64,92.31 L22.64,100.56 L23.48,100.56" fill="none" stroke="#7a7a7a" stroke-width="0.45"/>
<path d="M23.54,109.62 L22.49,109.62 L22.49,116.86 L23.78,116.86" fill="none" stroke="#7a7a7a" stroke-width="0.45"/>
<path d="M23.37,125.52 L21.83,125.52 L21.83,133.21 L23.87,133.21" fill="none" stroke="#7a7a7a" stroke-width="0.45"/>
<path d="M22.76,141.29 L21.6,141.29 L21.6,149.52 L24.32,149.52" fill="none" stroke="#7a7a7a" stroke-width="0.45"/>
<path d="M24.14,154.38 L22.83,154.38 L22.83,158.41 L24.63,158.41" fill="none" stroke="#7a7a7a" stroke-width="0.45"/>
<path d="M23.24,168.69 L21.98,168.69 L21.98,174.31 L25.6,174.31" fill="none" stroke="#7a7a7a" stroke-width="0.45"/>
<path d="M21.68,43.95 L20.19,43.95 L20.19,57.67 L21.64,57.67" fill="none" stroke="#a0a0a0" stroke-width="0.45"/>
<path d="M21.29,72.21 L19.48,72.21 L19.48,83.58 L22.86,83.58" fill="none" stroke="#a0a0a0" stroke-width="0.45"/>
<path d="M25.6,105.97 L21.38,105.97 L21.38,113.24 L22.49,113.24" fill="none" stroke="#7a7a7a" stroke-width="0.45"/>
<path d="M21.6,145.41 L20.84,145.41 L20.84,156.4 L22.83,156.4" fill="none" stroke="#a0a0a0" stroke-width="0.45"/>
<path d="M24.17,162.99 L20.16,162.99 L20.16,171.5 L21.98,171.5" fill="none" stroke="#a0a0a0" stroke-width="0.45"/>
<path d="M19.48,77.9 L17.94,77.9 L17.94,96.43 L22.64,96.43" fill="none" stroke="#a0a0a0" stroke-width="0.45"/>
<path d="M21.38,109.6 L19.81,109.6 L19.81,129.36 L21.83,129.36" fill="none" stroke="#a0a0a0" stroke-width="0.45"/>
<path d="M20.84,150.9 L18.77,150.9 L18.77,167.25 L20.16,167.25" fill="none" stroke="#a0a0a0" stroke-width="0.45"/>
<path d="M20.19,50.81 L16.71,50.81 L16.71,87.17 L17.94,87.17" fill="none" stroke="#a0a0a0" stroke-width="0.45"/>
<path d="M19.81,119.48 L18.05,119.48 L18.05,159.07 L18.77,159.07" fill="none" stroke="#a0a0a0" stroke-width="0.45"/>
<path d="M16.71,68.99 L15.71,68.99 L15.71,139.28 L18.05,139.28" fill="none" stroke="#a0a0a0" stroke-width="0.45"/>
<line x1="25.9" y1="37" x2="25.9" y2="175" stroke="#1a1a1a" stroke-width="1.1"/>
<line x1="28" y1="176.2" x2="48.5" y2="176.2" stroke="#a09c98" stroke-width="1.1"/>
<line x1="52" y1="176.2" x2="72" y2="176.2" stroke="#a09c98" stroke-width="1.1"/>
<line x1="76" y1="176.2" x2="96" y2="176.2" stroke="#a09c98" stroke-width="1.1"/>
<line x1="99.6" y1="176.2" x2="120" y2="176.2" stroke="#a09c98" stroke-width="1.1"/>
<text x="41.5" y="182.7" font-size="6.8" text-anchor="end" transform="rotate(-45 41.5 182.7)" textLength="19" lengthAdjust="spacingAndGlyphs">HES4</text>
<text x="64.5" y="182.2" font-size="6.8" text-anchor="end" transform="rotate(-45 64.5 182.2)" textLength="30" lengthAdjust="spacingAndGlyphs">shHES4_1</text>
<text x="90" y="182.2" font-size="6.8" text-anchor="end" transform="rotate(-45 90 182.2)" textLength="30" lengthAdjust="spacingAndGlyphs">shHES4_2</text>
<text x="112" y="182.2" font-size="6.8" text-anchor="end" transform="rotate(-45 112 182.2)" textLength="12.5" lengthAdjust="spacingAndGlyphs">Ctrl</text>
<defs><linearGradient id="gA" x1="0" y1="0" x2="0" y2="1"><stop offset="0" stop-color="#e8461a"/><stop offset="0.25" stop-color="#ee6c44"/><stop offset="0.5" stop-color="#f6f0f4"/><stop offset="0.75" stop-color="#8a7cc4"/><stop offset="1" stop-color="#28258a"/></linearGradient></defs>
<rect x="127.8" y="44.6" width="3.6" height="33.5" fill="url(#gA)"/>
<text x="134.5" y="48.8" font-size="6.8">Max</text>
<text x="134.5" y="78.6" font-size="6.8">Min</text>
<text x="163.2" y="15.6" font-size="12" font-weight="bold" fill="#000">B</text>
<text x="293.5" y="31.1" font-size="6.6" text-anchor="middle" textLength="56" lengthAdjust="spacingAndGlyphs">Hallmark gene sets</text>
<defs><marker id="ah" viewBox="0 0 10 10" refX="9" refY="5" markerWidth="4.2" markerHeight="4.2" markerUnits="userSpaceOnUse" orient="auto-start-reverse"><path d="M0,0 L10,5 L0,10 z" fill="#222"/></marker></defs>
<text x="249.6" y="44.3" font-size="7" text-anchor="end" textLength="53.2" lengthAdjust="spacingAndGlyphs">G2/M Checkpoint</text>
<line x1="251.6" y1="41.9" x2="255.7" y2="41.9" stroke="#222" stroke-width="0.8"/>
<line x1="294.5" y1="41.9" x2="327.5" y2="41.9" stroke="#cfcfcf" stroke-width="0.6"/>
<circle cx="327.5" cy="41.9" r="1.7" fill="#a41232"/>
<text x="249.6" y="54.69" font-size="7" text-anchor="end" textLength="50" lengthAdjust="spacingAndGlyphs">MYC Targets V.2</text>
<line x1="251.6" y1="52.29" x2="255.7" y2="52.29" stroke="#222" stroke-width="0.8"/>
<line x1="294.5" y1="52.29" x2="327" y2="52.29" stroke="#cfcfcf" stroke-width="0.6"/>
<circle cx="327" cy="52.29" r="0.4" fill="#a41232"/>
<text x="249.6" y="65.08" font-size="7" text-anchor="end" textLength="36.5" lengthAdjust="spacingAndGlyphs">Coagulation</text>
<line x1="251.6" y1="62.68" x2="255.7" y2="62.68" stroke="#222" stroke-width="0.8"/>
<line x1="268.3" y1="62.68" x2="294.5" y2="62.68" stroke="#cfcfcf" stroke-width="0.6"/>
<circle cx="268.3" cy="62.68" r="1.2" fill="#a41232"/>
<text x="249.6" y="75.47" font-size="7" text-anchor="end" textLength="54.8" lengthAdjust="spacingAndGlyphs">KRAS signaling Up</text>
<line x1="251.6" y1="73.07" x2="255.7" y2="73.07" stroke="#222" stroke-width="0.8"/>
<line x1="267.7" y1="73.07" x2="294.5" y2="73.07" stroke="#cfcfcf" stroke-width="0.6"/>
<circle cx="267.7" cy="73.07" r="1.2" fill="#a41232"/>
<text x="247.6" y="85.86" font-size="7" text-anchor="end" textLength="73.7" lengthAdjust="spacingAndGlyphs">Cholesterol Homeostasis</text>
<line x1="251.6" y1="83.46" x2="255.7" y2="83.46" stroke="#222" stroke-width="0.8"/>
<line x1="266.3" y1="83.46" x2="294.5" y2="83.46" stroke="#cfcfcf" stroke-width="0.6"/>
<circle cx="266.3" cy="83.46" r="0.7" fill="#a41232"/>
<text x="249.6" y="96.25" font-size="7" text-anchor="end" textLength="71.7" lengthAdjust="spacingAndGlyphs">Estrogen Response Late</text>
<line x1="251.6" y1="93.85" x2="255.7" y2="93.85" stroke="#222" stroke-width="0.8"/>
<line x1="266.3" y1="93.85" x2="294.5" y2="93.85" stroke="#cfcfcf" stroke-width="0.6"/>
<circle cx="266.3" cy="93.85" r="1.1" fill="#a41232"/>
<text x="249.6" y="106.64" font-size="7" text-anchor="end" textLength="24" lengthAdjust="spacingAndGlyphs">Hypoxia</text>
<line x1="251.6" y1="104.24" x2="255.7" y2="104.24" stroke="#222" stroke-width="0.8"/>
<line x1="264.8" y1="104.24" x2="294.5" y2="104.24" stroke="#cfcfcf" stroke-width="0.6"/>
<circle cx="264.8" cy="104.24" r="1.3" fill="#a41232"/>
<text x="249.6" y="117.03" font-size="7" text-anchor="end" textLength="38.4" lengthAdjust="spacingAndGlyphs">Complement</text>
<line x1="251.6" y1="114.63" x2="255.7" y2="114.63" stroke="#222" stroke-width="0.8"/>
<line x1="264.8" y1="114.63" x2="294.5" y2="114.63" stroke="#cfcfcf" stroke-width="0.6"/>
<circle cx="264.8" cy="114.63" r="1.2" fill="#a41232"/>
<text x="249.6" y="127.42" font-size="7" text-anchor="end" textLength="60.2" lengthAdjust="spacingAndGlyphs">Androgen Response</text>
<line x1="251.6" y1="125.02" x2="255.7" y2="125.02" stroke="#222" stroke-width="0.8"/>
<line x1="264.4" y1="125.02" x2="294.5" y2="125.02" stroke="#cfcfcf" stroke-width="0.6"/>
<circle cx="264.4" cy="125.02" r="1" fill="#a41232"/>
<text x="249.6" y="137.81" font-size="7" text-anchor="end" textLength="78.4" lengthAdjust="spacingAndGlyphs">Oxidative Phosphorylation</text>
<line x1="251.6" y1="135.41" x2="255.7" y2="135.41" stroke="#222" stroke-width="0.8"/>
<line x1="263" y1="135.41" x2="294.5" y2="135.41" stroke="#cfcfcf" stroke-width="0.6"/>
<circle cx="263" cy="135.41" r="1.4" fill="#a41232"/>
<text x="249.6" y="148.2" font-size="7" text-anchor="end" textLength="69.6" lengthAdjust="spacingAndGlyphs">Inflammatory Response</text>
<line x1="251.6" y1="145.8" x2="255.7" y2="145.8" stroke="#222" stroke-width="0.8"/>
<line x1="262" y1="145.8" x2="294.5" y2="145.8" stroke="#cfcfcf" stroke-width="0.6"/>
<circle cx="262" cy="145.8" r="1.2" fill="#a41232"/>
<text x="249.6" y="158.59" font-size="7" text-anchor="end" textLength="64.8" lengthAdjust="spacingAndGlyphs">Interferon-&#947; Response</text>
<line x1="251.6" y1="156.19" x2="255.7" y2="156.19" stroke="#222" stroke-width="0.8"/>
<line x1="261" y1="156.19" x2="294.5" y2="156.19" stroke="#cfcfcf" stroke-width="0.6"/>
<circle cx="261" cy="156.19" r="1.2" fill="#a41232"/>
<text x="249.6" y="168.98" font-size="7" text-anchor="end" textLength="55.2" lengthAdjust="spacingAndGlyphs">Allograft Rejection</text>
<line x1="251.6" y1="166.58" x2="255.7" y2="166.58" stroke="#222" stroke-width="0.8"/>
<line x1="259" y1="166.58" x2="294.5" y2="166.58" stroke="#cfcfcf" stroke-width="0.6"/>
<circle cx="259" cy="166.58" r="1.3" fill="#a41232"/>
<line x1="255.7" y1="35.6" x2="255.7" y2="172.8" stroke="#222" stroke-width="0.9"/>
<line x1="255.3" y1="172.4" x2="331" y2="172.4" stroke="#222" stroke-width="0.9"/>
<line x1="274.1" y1="172.4" x2="274.1" y2="175.5" stroke="#222" stroke-width="0.8"/>
<text x="274.1" y="185.2" font-size="6.8" text-anchor="middle">&#8722;1</text>
<line x1="293.5" y1="172.4" x2="293.5" y2="175.5" stroke="#222" stroke-width="0.8"/>
<text x="293.5" y="185.2" font-size="6.8" text-anchor="middle">0</text>
<line x1="312.9" y1="172.4" x2="312.9" y2="175.5" stroke="#222" stroke-width="0.8"/>
<text x="312.9" y="185.2" font-size="6.8" text-anchor="middle">1</text>
<text x="328.6" y="185.2" font-size="6.8">NES</text>
<line x1="291.5" y1="189.2" x2="257" y2="189.2" stroke="#222" stroke-width="0.8" marker-end="url(#ah)"/>
<line x1="295.5" y1="189.2" x2="329.5" y2="189.2" stroke="#222" stroke-width="0.8" marker-end="url(#ah)"/>
<text x="276" y="197.9" font-size="6.8" text-anchor="middle">Down</text>
<text x="311" y="197.9" font-size="6.8" text-anchor="middle">Up</text>
<text x="338.6" y="46.8" font-size="6.5">FDR.q.val</text>
<defs><linearGradient id="gB" x1="0" y1="0" x2="0" y2="1"><stop offset="0" stop-color="#960c14"/><stop offset="0.15" stop-color="#cc1616"/><stop offset="0.5" stop-color="#e82c10"/><stop offset="1" stop-color="#f25218"/></linearGradient></defs>
<rect x="338.6" y="49" width="5.6" height="34.7" fill="url(#gB)"/>
<text x="347.2" y="61.3" font-size="6.5">0.075</text>
<text x="347.2" y="71.1" font-size="6.5">0.050</text>
<text x="347.2" y="80.9" font-size="6.5">0.025</text>
<text x="338.6" y="96.2" font-size="6.5">Size</text>
<circle cx="341.3" cy="102.3" r="1.3" fill="#111"/>
<circle cx="341.3" cy="110.5" r="1.8" fill="#111"/>
<text x="345.4" y="104.6" font-size="6.5">100</text>
<text x="345.4" y="112.8" font-size="6.5">150</text>
<text x="382.8" y="15.6" font-size="12" font-weight="bold" fill="#000">C</text>
<text x="409.7" y="18.6" font-size="7.4" textLength="80.3" lengthAdjust="spacingAndGlyphs">Hallmark G2/M Checkpoint</text>
<line x1="412.5" y1="24.6" x2="412.5" y2="89.3" stroke="#333" stroke-width="0.7"/>
<line x1="410.8" y1="25.2" x2="412.5" y2="25.2" stroke="#333" stroke-width="0.4"/>
<text x="409.6" y="26.2" font-size="2.9" text-anchor="end" fill="#444">0.55</text>
<line x1="410.8" y1="28.45" x2="412.5" y2="28.45" stroke="#333" stroke-width="0.4"/>
<text x="409.6" y="29.45" font-size="2.9" text-anchor="end" fill="#444">0.50</text>
<line x1="410.8" y1="31.7" x2="412.5" y2="31.7" stroke="#333" stroke-width="0.4"/>
<text x="409.6" y="32.7" font-size="2.9" text-anchor="end" fill="#444">0.45</text>
<line x1="410.8" y1="34.95" x2="412.5" y2="34.95" stroke="#333" stroke-width="0.4"/>
<text x="409.6" y="35.95" font-size="2.9" text-anchor="end" fill="#444">0.40</text>
<line x1="410.8" y1="38.2" x2="412.5" y2="38.2" stroke="#333" stroke-width="0.4"/>
<text x="409.6" y="39.2" font-size="2.9" text-anchor="end" fill="#444">0.35</text>
<line x1="410.8" y1="41.45" x2="412.5" y2="41.45" stroke="#333" stroke-width="0.4"/>
<text x="409.6" y="42.45" font-size="2.9" text-anchor="end" fill="#444">0.30</text>
<line x1="410.8" y1="44.7" x2="412.5" y2="44.7" stroke="#333" stroke-width="0.4"/>
<text x="409.6" y="45.7" font-size="2.9" text-anchor="end" fill="#444">0.25</text>
<line x1="410.8" y1="47.95" x2="412.5" y2="47.95" stroke="#333" stroke-width="0.4"/>
<text x="409.6" y="48.95" font-size="2.9" text-anchor="end" fill="#444">0.20</text>
<line x1="410.8" y1="51.2" x2="412.5" y2="51.2" stroke="#333" stroke-width="0.4"/>
<text x="409.6" y="52.2" font-size="2.9" text-anchor="end" fill="#444">0.15</text>
<line x1="410.8" y1="54.45" x2="412.5" y2="54.45" stroke="#333" stroke-width="0.4"/>
<text x="409.6" y="55.45" font-size="2.9" text-anchor="end" fill="#444">0.10</text>
<text x="398.4" y="39" font-size="3.6" text-anchor="middle" fill="#333" transform="rotate(-90 398.4 39)" textLength="33" lengthAdjust="spacingAndGlyphs">Enrichment score (ES)</text>
<text x="397.4" y="75.5" font-size="3.6" text-anchor="middle" fill="#333" transform="rotate(-90 397.4 75.5)" textLength="26" lengthAdjust="spacingAndGlyphs">Ranked list metric</text>
<text x="402.2" y="72" font-size="3.6" text-anchor="middle" fill="#5a9a8a" transform="rotate(-90 402.2 72)" textLength="15.5" lengthAdjust="spacingAndGlyphs">(Signal2Noise)</text>
<text x="409.6" y="72" font-size="3" text-anchor="end" fill="#444">4</text>
<line x1="410.8" y1="71" x2="412.5" y2="71" stroke="#333" stroke-width="0.4"/>
<text x="409.6" y="76" font-size="3" text-anchor="end" fill="#444">2</text>
<line x1="410.8" y1="75" x2="412.5" y2="75" stroke="#333" stroke-width="0.4"/>
<text x="409.6" y="80" font-size="3" text-anchor="end" fill="#444">0</text>
<line x1="410.8" y1="79" x2="412.5" y2="79" stroke="#333" stroke-width="0.4"/>
<text x="409.6" y="84" font-size="3" text-anchor="end" fill="#444">-2</text>
<line x1="410.8" y1="83" x2="412.5" y2="83" stroke="#333" stroke-width="0.4"/>
<text x="409.6" y="88" font-size="3" text-anchor="end" fill="#444">-4</text>
<line x1="410.8" y1="87" x2="412.5" y2="87" stroke="#333" stroke-width="0.4"/>
<line x1="412.5" y1="47.2" x2="503" y2="47.2" stroke="#e4e4e4" stroke-width="0.5"/>
<path d="M412.6,47 L413.1,46.2 L413.8,40.8 L415.4,36.9 L416.9,33.1 L419.2,30.8 L423,30 L424.6,31.5 L426,28.6 L427.6,26.2 L433,27.8 L441.6,30.6 L447,32.6 L453,35.2 L459,39.2 L464.7,44.2 L470,48.3 L476.2,50.9 L482,52.2 L487.8,52.8 L492,52.6 L494.7,52.2 L496.5,53.3 L497.5,52.5 L499.3,49.6 L501.2,49.2 L502.8,50.4" fill="none" stroke="#4cb04c" stroke-width="0.95"/>
<text x="467.6" y="31.3" font-size="5.2" fill="#333" textLength="22" lengthAdjust="spacingAndGlyphs">NES = 1.66</text>
<text x="467.6" y="38.3" font-size="5.2" fill="#333" textLength="24.2" lengthAdjust="spacingAndGlyphs">FDR = 0.049</text>
<rect x="412.8" y="55.6" width="90.2" height="9.6" fill="#f4f4f4"/>
<rect x="413" y="55.6" width="2.6" height="9.6" fill="#aaa"/>
<rect x="416.47" y="55.6" width="2.6" height="9.6" fill="#444"/>
<rect x="419.88" y="55.6" width="1.2" height="9.6" fill="#1a1a1a"/>
<rect x="422.25" y="55.6" width="2.6" height="9.6" fill="#888"/>
<rect x="425.78" y="55.6" width="1" height="9.6" fill="#111"/>
<rect x="427.52" y="55.6" width="1" height="9.6" fill="#111"/>
<rect x="429.36" y="55.6" width="0.6" height="9.6" fill="#666"/>
<rect x="431.34" y="55.6" width="2.6" height="9.6" fill="#888"/>
<rect x="435.03" y="55.6" width="1" height="9.6" fill="#666"/>
<rect x="436.25" y="55.6" width="0.8" height="9.6" fill="#111"/>
<rect x="437.29" y="55.6" width="1.2" height="9.6" fill="#666"/>
<rect x="438.73" y="55.6" width="2.6" height="9.6" fill="#2a2a2a"/>
<rect x="442.06" y="55.6" width="1.2" height="9.6" fill="#666"/>
<rect x="443.74" y="55.6" width="1.5" height="9.6" fill="#444"/>
<rect x="445.44" y="55.6" width="0.8" height="9.6" fill="#444"/>
<rect x="447.23" y="55.6" width="2.2" height="9.6" fill="#666"/>
<rect x="450.82" y="55.6" width="0.8" height="9.6" fill="#888"/>
<rect x="452.13" y="55.6" width="1.2" height="9.6" fill="#666"/>
<rect x="453.87" y="55.6" width="0.8" height="9.6" fill="#666"/>
<rect x="455.79" y="55.6" width="2.2" height="9.6" fill="#111"/>
<rect x="459.15" y="55.6" width="0.6" height="9.6" fill="#aaa"/>
<rect x="460.61" y="55.6" width="0.6" height="9.6" fill="#444"/>
<rect x="462.92" y="55.6" width="2.2" height="9.6" fill="#111"/>
<rect x="465.96" y="55.6" width="1.5" height="9.6" fill="#2a2a2a"/>
<rect x="468.52" y="55.6" width="2.2" height="9.6" fill="#aaa"/>
<rect x="471.45" y="55.6" width="0.8" height="9.6" fill="#111"/>
<rect x="474.11" y="55.6" width="1" height="9.6" fill="#888"/>
<rect x="476.37" y="55.6" width="1.2" height="9.6" fill="#888"/>
<rect x="478.78" y="55.6" width="2.2" height="9.6" fill="#111"/>
<rect x="483.16" y="55.6" width="0.6" height="9.6" fill="#2a2a2a"/>
<rect x="485.92" y="55.6" width="1.5" height="9.6" fill="#111"/>
<rect x="487.87" y="55.6" width="2.2" height="9.6" fill="#aaa"/>
<rect x="490.99" y="55.6" width="0.8" height="9.6" fill="#111"/>
<rect x="493.18" y="55.6" width="1.2" height="9.6" fill="#444"/>
<rect x="494.89" y="55.6" width="1.8" height="9.6" fill="#aaa"/>
<rect x="497.25" y="55.6" width="0.8" height="9.6" fill="#111"/>
<rect x="498.35" y="55.6" width="1.2" height="9.6" fill="#111"/>
<rect x="500.48" y="55.6" width="1.8" height="9.6" fill="#666"/>
<rect x="412.8" y="55.6" width="0.6" height="9.6" fill="#111"/>
<defs><linearGradient id="gC" x1="0" y1="0" x2="1" y2="0"><stop offset="0" stop-color="#e8302c"/><stop offset="0.36" stop-color="#ec4040"/><stop offset="0.4" stop-color="#f4b8c0"/><stop offset="0.55" stop-color="#f0e0ec"/><stop offset="0.7" stop-color="#dcd8f0"/><stop offset="0.75" stop-color="#7470c0"/><stop offset="0.9" stop-color="#3c38a0"/><stop offset="0.955" stop-color="#2a2880"/><stop offset="0.96" stop-color="#111"/><stop offset="1" stop-color="#111"/></linearGradient></defs>
<rect x="412.8" y="65.6" width="90.3" height="2.4" fill="url(#gC)"/>
<text x="414" y="70.2" font-size="2.3" fill="#e06060">&#39;na_pos&#39; (positively correlated)</text>
<text x="488" y="86.5" font-size="2.3" text-anchor="end" fill="#6070c0">&#39;na_neg&#39; (negatively correlated)</text>
<path d="M412.8,79 L412.8,76.2 L430,77.2 L460,78 L490,79.2 L498,80.5 L502,82 L503,86 L503,79 Z" fill="#cfcfcf" stroke="#b0b0b0" stroke-width="0.4"/>
<text x="455" y="79.6" font-size="2.3" text-anchor="middle" fill="#666">Zero cross at 9755</text>
<line x1="412.5" y1="89.3" x2="503" y2="89.3" stroke="#333" stroke-width="0.6"/>
<line x1="413" y1="89.3" x2="413" y2="90.6" stroke="#333" stroke-width="0.4"/>
<text x="414.2" y="92.3" font-size="3.6" text-anchor="end" fill="#444" transform="rotate(-45 414.2 92.3)">0</text>
<line x1="423.85" y1="89.3" x2="423.85" y2="90.6" stroke="#333" stroke-width="0.4"/>
<text x="425.05" y="92.3" font-size="3.6" text-anchor="end" fill="#444" transform="rotate(-45 425.05 92.3)">2,000</text>
<line x1="434.7" y1="89.3" x2="434.7" y2="90.6" stroke="#333" stroke-width="0.4"/>
<text x="435.9" y="92.3" font-size="3.6" text-anchor="end" fill="#444" transform="rotate(-45 435.9 92.3)">4,000</text>
<line x1="445.55" y1="89.3" x2="445.55" y2="90.6" stroke="#333" stroke-width="0.4"/>
<text x="446.75" y="92.3" font-size="3.6" text-anchor="end" fill="#444" transform="rotate(-45 446.75 92.3)">6,000</text>
<line x1="456.4" y1="89.3" x2="456.4" y2="90.6" stroke="#333" stroke-width="0.4"/>
<text x="457.6" y="92.3" font-size="3.6" text-anchor="end" fill="#444" transform="rotate(-45 457.6 92.3)">8,000</text>
<line x1="467.25" y1="89.3" x2="467.25" y2="90.6" stroke="#333" stroke-width="0.4"/>
<text x="468.45" y="92.3" font-size="3.6" text-anchor="end" fill="#444" transform="rotate(-45 468.45 92.3)">10,000</text>
<line x1="478.1" y1="89.3" x2="478.1" y2="90.6" stroke="#333" stroke-width="0.4"/>
<text x="479.3" y="92.3" font-size="3.6" text-anchor="end" fill="#444" transform="rotate(-45 479.3 92.3)">12,000</text>
<line x1="488.95" y1="89.3" x2="488.95" y2="90.6" stroke="#333" stroke-width="0.4"/>
<text x="490.15" y="92.3" font-size="3.6" text-anchor="end" fill="#444" transform="rotate(-45 490.15 92.3)">14,000</text>
<line x1="499.8" y1="89.3" x2="499.8" y2="90.6" stroke="#333" stroke-width="0.4"/>
<text x="501" y="92.3" font-size="3.6" text-anchor="end" fill="#444" transform="rotate(-45 501 92.3)">16,000</text>
<text x="460.8" y="106.2" font-size="4" text-anchor="middle" fill="#444" textLength="36" lengthAdjust="spacingAndGlyphs">Rank in ordered dataset</text>
<line x1="413.5" y1="110.8" x2="418" y2="110.8" stroke="#3ca63c" stroke-width="0.6"/>
<text x="419.5" y="112" font-size="3.2" fill="#666" textLength="21" lengthAdjust="spacingAndGlyphs">Enrichment profile</text>
<line x1="443" y1="110.8" x2="446.5" y2="110.8" stroke="#111" stroke-width="0.6"/>
<text x="448" y="112" font-size="3.2" fill="#666">Hits</text>
<line x1="466" y1="110.8" x2="471" y2="110.8" stroke="#aaa" stroke-width="0.6"/>
<text x="473.5" y="112" font-size="3.2" fill="#666" textLength="33.5" lengthAdjust="spacingAndGlyphs">Ranking metric scores</text>
<text x="382.8" y="133" font-size="12" font-weight="bold" fill="#000">D</text>
<line x1="421.6" y1="141" x2="421.6" y2="199.6" stroke="#222" stroke-width="0.9"/>
<line x1="421.2" y1="199.3" x2="511.2" y2="199.3" stroke="#222" stroke-width="0.9"/>
<line x1="419" y1="196.6" x2="421.6" y2="196.6" stroke="#222" stroke-width="0.8"/>
<text x="418.2" y="199.1" font-size="7.3" text-anchor="end">0</text>
<line x1="419" y1="185.91" x2="421.6" y2="185.91" stroke="#222" stroke-width="0.8"/>
<text x="418.2" y="188.41" font-size="7.3" text-anchor="end">10</text>
<line x1="419" y1="175.22" x2="421.6" y2="175.22" stroke="#222" stroke-width="0.8"/>
<text x="418.2" y="177.72" font-size="7.3" text-anchor="end">20</text>
<line x1="419" y1="164.53" x2="421.6" y2="164.53" stroke="#222" stroke-width="0.8"/>
<text x="418.2" y="167.03" font-size="7.3" text-anchor="end">30</text>
<line x1="419" y1="153.84" x2="421.6" y2="153.84" stroke="#222" stroke-width="0.8"/>
<text x="418.2" y="156.34" font-size="7.3" text-anchor="end">40</text>
<line x1="419" y1="143.15" x2="421.6" y2="143.15" stroke="#222" stroke-width="0.8"/>
<text x="418.2" y="145.65" font-size="7.3" text-anchor="end">50</text>
<line x1="425.6" y1="199.3" x2="425.6" y2="202" stroke="#222" stroke-width="0.8"/>
<text x="425.6" y="211" font-size="7.3" text-anchor="middle">&#8722;6</text>
<line x1="446.7" y1="199.3" x2="446.7" y2="202" stroke="#222" stroke-width="0.8"/>
<text x="446.7" y="211" font-size="7.3" text-anchor="middle">&#8722;3</text>
<line x1="467" y1="199.3" x2="467" y2="202" stroke="#222" stroke-width="0.8"/>
<text x="467" y="211" font-size="7.3" text-anchor="middle">0</text>
<line x1="487.7" y1="199.3" x2="487.7" y2="202" stroke="#222" stroke-width="0.8"/>
<text x="487.7" y="211" font-size="7.3" text-anchor="middle">3</text>
<line x1="508.8" y1="199.3" x2="508.8" y2="202" stroke="#222" stroke-width="0.8"/>
<text x="508.8" y="211" font-size="7.3" text-anchor="middle">6</text>
<line x1="421.6" y1="195.4" x2="511" y2="195.4" stroke="#999" stroke-width="0.6" stroke-dasharray="1,1"/>
<text x="404.4" y="169.5" font-size="8.2" text-anchor="middle" transform="rotate(-90 404.4 169.5)" textLength="77" lengthAdjust="spacingAndGlyphs">-Log<tspan font-size="5.4" dy="1.7">10</tspan><tspan dy="-1.7">(adjusted </tspan><tspan font-style="italic">P</tspan> value)</text>
<line x1="463.5" y1="214.8" x2="428.5" y2="214.8" stroke="#222" stroke-width="0.8" marker-end="url(#ah)"/>
<line x1="470" y1="214.8" x2="505.5" y2="214.8" stroke="#222" stroke-width="0.8" marker-end="url(#ah)"/>
<text x="445.4" y="223.8" font-size="7.3" text-anchor="middle">Down</text>
<text x="488" y="223.8" font-size="7.3" text-anchor="middle">Up</text>
<text x="467.4" y="234.2" font-size="7.3" text-anchor="middle">Log<tspan font-size="5" dy="1.6">2</tspan><tspan dy="-1.6"> fold change</tspan></text>
<circle cx="445.18" cy="182.12" r="0.55" fill="#9098a8"/>
<circle cx="456.04" cy="182.04" r="0.55" fill="#9098a8"/>
<circle cx="424.99" cy="169.42" r="0.55" fill="#a0a4b4"/>
<circle cx="446.07" cy="189.44" r="0.55" fill="#a0a4b4"/>
<circle cx="436.64" cy="187.95" r="0.55" fill="#b0b0c0"/>
<circle cx="442.49" cy="174.4" r="0.55" fill="#a0a4b4"/>
<circle cx="448.86" cy="166.77" r="0.55" fill="#a0a4b4"/>
<circle cx="455.16" cy="183.22" r="0.55" fill="#a0a4b4"/>
<circle cx="449.91" cy="151.31" r="0.55" fill="#9098a8"/>
<circle cx="444.99" cy="153.83" r="0.55" fill="#a0a4b4"/>
<circle cx="457.06" cy="148.24" r="0.55" fill="#a0a4b4"/>
<circle cx="456.64" cy="155.63" r="0.55" fill="#a0a4b4"/>
<circle cx="433.84" cy="192.23" r="0.55" fill="#9098a8"/>
<circle cx="453.79" cy="176.78" r="0.55" fill="#a0a4b4"/>
<circle cx="455.99" cy="179.77" r="0.55" fill="#b0b0c0"/>
<circle cx="434.16" cy="164.61" r="0.55" fill="#a0a4b4"/>
<circle cx="455.82" cy="160.14" r="0.55" fill="#b0b0c0"/>
<circle cx="434.25" cy="175.74" r="0.55" fill="#a0a4b4"/>
<circle cx="444.26" cy="180.55" r="0.55" fill="#a0a4b4"/>
<circle cx="434.54" cy="185.65" r="0.55" fill="#b0b0c0"/>
<circle cx="447.68" cy="156.5" r="0.55" fill="#b0b0c0"/>
<circle cx="447.96" cy="150.62" r="0.55" fill="#a0a4b4"/>
<circle cx="456.27" cy="164.45" r="0.55" fill="#b0b0c0"/>
<circle cx="424.61" cy="184.24" r="0.55" fill="#b0b0c0"/>
<circle cx="436.8" cy="186.7" r="0.55" fill="#b0b0c0"/>
<circle cx="425.59" cy="156.32" r="0.55" fill="#a0a4b4"/>
<circle cx="428.05" cy="159.32" r="0.55" fill="#b0b0c0"/>
<circle cx="435.71" cy="164.32" r="0.55" fill="#9098a8"/>
<circle cx="432.53" cy="169.29" r="0.55" fill="#9098a8"/>
<circle cx="449.45" cy="184.67" r="0.55" fill="#b0b0c0"/>
<circle cx="425.25" cy="191.51" r="0.55" fill="#a0a4b4"/>
<circle cx="431.09" cy="171.59" r="0.55" fill="#b0b0c0"/>
<circle cx="455.21" cy="163.64" r="0.55" fill="#9098a8"/>
<circle cx="442.53" cy="162.37" r="0.55" fill="#b0b0c0"/>
<circle cx="496.12" cy="191.98" r="0.5" fill="#c0a8ac"/>
<circle cx="504.42" cy="184.64" r="0.5" fill="#b8b8b8"/>
<circle cx="493.23" cy="180.73" r="0.5" fill="#b8b8b8"/>
<circle cx="490.64" cy="191.11" r="0.5" fill="#b8b8b8"/>
<circle cx="506.53" cy="186.83" r="0.5" fill="#b8b8b8"/>
<circle cx="492.91" cy="194.69" r="0.5" fill="#c0a8ac"/>
<circle cx="506.03" cy="185.01" r="0.5" fill="#c0a8ac"/>
<circle cx="492.61" cy="190.97" r="0.5" fill="#c0a8ac"/>
<circle cx="502.61" cy="191.82" r="0.5" fill="#c0a8ac"/>
<circle cx="493.38" cy="185.59" r="0.5" fill="#c0a8ac"/>
<circle cx="506.89" cy="184.42" r="0.5" fill="#b8b8b8"/>
<circle cx="508.44" cy="189.31" r="0.5" fill="#c0a8ac"/>
<circle cx="509.52" cy="186.8" r="0.5" fill="#b8b8b8"/>
<circle cx="503.78" cy="184.77" r="0.5" fill="#b8b8b8"/>
<path d="M443.5,196 L447,193.5 L451,191 L455,188.5 L458,187 L461,188.5 L463.5,192 L465.6,196 Z" fill="#1f4f8b"/>
<circle cx="448.28" cy="194.54" r="0.6" fill="#2a5c9a"/>
<circle cx="443.81" cy="196" r="0.6" fill="#7d9cc8"/>
<circle cx="465" cy="192.53" r="0.6" fill="#5a82b8"/>
<circle cx="462.69" cy="195.31" r="0.6" fill="#5a82b8"/>
<circle cx="447.81" cy="192.24" r="0.6" fill="#7d9cc8"/>
<circle cx="450.03" cy="190" r="0.6" fill="#3a6aa6"/>
<circle cx="458.36" cy="187.17" r="0.6" fill="#3a6aa6"/>
<circle cx="450.09" cy="190.92" r="0.6" fill="#3a6aa6"/>
<circle cx="461.88" cy="194.58" r="0.6" fill="#3a6aa6"/>
<circle cx="464.92" cy="194.68" r="0.6" fill="#2a5c9a"/>
<circle cx="455.52" cy="195.99" r="0.6" fill="#7d9cc8"/>
<circle cx="460.34" cy="193.65" r="0.6" fill="#3a6aa6"/>
<circle cx="452.57" cy="186.94" r="0.6" fill="#3a6aa6"/>
<circle cx="449.7" cy="191.88" r="0.6" fill="#5a82b8"/>
<circle cx="449.75" cy="189.61" r="0.6" fill="#5a82b8"/>
<circle cx="465.4" cy="189.74" r="0.6" fill="#7d9cc8"/>
<circle cx="444.55" cy="195.23" r="0.6" fill="#2a5c9a"/>
<circle cx="461.92" cy="185.35" r="0.6" fill="#5a82b8"/>
<circle cx="448.07" cy="195.9" r="0.6" fill="#5a82b8"/>
<circle cx="445.3" cy="194.73" r="0.6" fill="#7d9cc8"/>
<circle cx="453.91" cy="182.96" r="0.6" fill="#3a6aa6"/>
<circle cx="456.59" cy="183.77" r="0.6" fill="#3a6aa6"/>
<circle cx="459.01" cy="195.95" r="0.6" fill="#2a5c9a"/>
<circle cx="455.66" cy="187.98" r="0.6" fill="#2a5c9a"/>
<circle cx="446.48" cy="194.02" r="0.6" fill="#1f4f8b"/>
<circle cx="465.66" cy="189.86" r="0.6" fill="#2a5c9a"/>
<circle cx="442.35" cy="196" r="0.6" fill="#3a6aa6"/>
<circle cx="465.2" cy="193.81" r="0.6" fill="#7d9cc8"/>
<circle cx="441.89" cy="196" r="0.6" fill="#5a82b8"/>
<circle cx="457.56" cy="195.73" r="0.6" fill="#2a5c9a"/>
<circle cx="446.95" cy="192.34" r="0.6" fill="#1f4f8b"/>
<circle cx="449.76" cy="188.21" r="0.6" fill="#5a82b8"/>
<circle cx="462.66" cy="190.09" r="0.6" fill="#7d9cc8"/>
<circle cx="450.35" cy="195.95" r="0.6" fill="#7d9cc8"/>
<circle cx="448.53" cy="195.06" r="0.6" fill="#7d9cc8"/>
<circle cx="449.48" cy="192.64" r="0.6" fill="#3a6aa6"/>
<circle cx="461.46" cy="192.9" r="0.6" fill="#7d9cc8"/>
<circle cx="457.06" cy="192.15" r="0.6" fill="#2a5c9a"/>
<circle cx="444.92" cy="195.71" r="0.6" fill="#5a82b8"/>
<circle cx="464.93" cy="188.97" r="0.6" fill="#7d9cc8"/>
<circle cx="443.27" cy="196" r="0.6" fill="#1f4f8b"/>
<circle cx="450.55" cy="194.41" r="0.6" fill="#7d9cc8"/>
<circle cx="454.49" cy="193.46" r="0.6" fill="#7d9cc8"/>
<circle cx="450.4" cy="193.56" r="0.6" fill="#2a5c9a"/>
<circle cx="453.34" cy="191.79" r="0.6" fill="#5a82b8"/>
<circle cx="450.6" cy="188.5" r="0.6" fill="#2a5c9a"/>
<circle cx="455.9" cy="193.99" r="0.6" fill="#3a6aa6"/>
<circle cx="453.41" cy="192.63" r="0.6" fill="#3a6aa6"/>
<circle cx="464.63" cy="194.81" r="0.6" fill="#3a6aa6"/>
<circle cx="444.58" cy="196" r="0.6" fill="#7d9cc8"/>
<circle cx="465.02" cy="195.23" r="0.6" fill="#1f4f8b"/>
<circle cx="460.54" cy="185.8" r="0.6" fill="#1f4f8b"/>
<circle cx="453.01" cy="190.79" r="0.6" fill="#2a5c9a"/>
<circle cx="464.38" cy="190.46" r="0.6" fill="#2a5c9a"/>
<circle cx="453.25" cy="185.69" r="0.6" fill="#3a6aa6"/>
<circle cx="448.33" cy="193.15" r="0.6" fill="#5a82b8"/>
<circle cx="453.96" cy="184.5" r="0.6" fill="#1f4f8b"/>
<circle cx="441.4" cy="196" r="0.6" fill="#3a6aa6"/>
<circle cx="454.34" cy="193.36" r="0.6" fill="#3a6aa6"/>
<circle cx="459.28" cy="195.95" r="0.6" fill="#3a6aa6"/>
<circle cx="450.03" cy="190.5" r="0.6" fill="#7d9cc8"/>
<circle cx="444.31" cy="196" r="0.6" fill="#7d9cc8"/>
<circle cx="452.39" cy="185.33" r="0.6" fill="#7d9cc8"/>
<circle cx="445.78" cy="195.33" r="0.6" fill="#5a82b8"/>
<circle cx="455.87" cy="186.44" r="0.6" fill="#5a82b8"/>
<circle cx="462.47" cy="187.65" r="0.6" fill="#5a82b8"/>
<circle cx="450.8" cy="188.31" r="0.6" fill="#2a5c9a"/>
<circle cx="463.47" cy="193.2" r="0.6" fill="#1f4f8b"/>
<circle cx="448.59" cy="196" r="0.6" fill="#5a82b8"/>
<circle cx="455.55" cy="187.56" r="0.6" fill="#5a82b8"/>
<circle cx="463.77" cy="195.6" r="0.6" fill="#5a82b8"/>
<circle cx="458.38" cy="181.94" r="0.6" fill="#3a6aa6"/>
<circle cx="454.45" cy="192.11" r="0.6" fill="#7d9cc8"/>
<circle cx="461.3" cy="195.83" r="0.6" fill="#2a5c9a"/>
<circle cx="447.68" cy="195.9" r="0.6" fill="#1f4f8b"/>
<circle cx="457.59" cy="195.95" r="0.6" fill="#5a82b8"/>
<circle cx="465.47" cy="189.39" r="0.6" fill="#5a82b8"/>
<circle cx="442.22" cy="196" r="0.6" fill="#2a5c9a"/>
<circle cx="456.36" cy="182.73" r="0.6" fill="#1f4f8b"/>
<circle cx="458.81" cy="195.34" r="0.6" fill="#3a6aa6"/>
<circle cx="458.64" cy="191.57" r="0.6" fill="#2a5c9a"/>
<circle cx="456.27" cy="191.63" r="0.6" fill="#2a5c9a"/>
<circle cx="442.68" cy="196" r="0.6" fill="#7d9cc8"/>
<circle cx="443.71" cy="196" r="0.6" fill="#1f4f8b"/>
<circle cx="448" cy="193.62" r="0.6" fill="#1f4f8b"/>
<circle cx="459.56" cy="183.6" r="0.6" fill="#2a5c9a"/>
<circle cx="441.25" cy="196" r="0.6" fill="#7d9cc8"/>
<circle cx="453.24" cy="193.44" r="0.6" fill="#3a6aa6"/>
<circle cx="463.87" cy="195.62" r="0.6" fill="#3a6aa6"/>
<circle cx="444.78" cy="195.46" r="0.6" fill="#7d9cc8"/>
<circle cx="448.26" cy="190.35" r="0.6" fill="#7d9cc8"/>
<circle cx="456.52" cy="193.84" r="0.6" fill="#7d9cc8"/>
<circle cx="446.89" cy="192.85" r="0.6" fill="#3a6aa6"/>
<circle cx="453.92" cy="195.42" r="0.6" fill="#2a5c9a"/>
<circle cx="462.59" cy="192.94" r="0.6" fill="#5a82b8"/>
<circle cx="445.48" cy="194.74" r="0.6" fill="#3a6aa6"/>
<circle cx="443.13" cy="196" r="0.6" fill="#1f4f8b"/>
<circle cx="462.58" cy="192.35" r="0.6" fill="#5a82b8"/>
<circle cx="446.96" cy="192.49" r="0.6" fill="#5a82b8"/>
<circle cx="465.08" cy="195.8" r="0.6" fill="#7d9cc8"/>
<circle cx="441.74" cy="196" r="0.6" fill="#1f4f8b"/>
<circle cx="462.21" cy="185.6" r="0.6" fill="#5a82b8"/>
<circle cx="458.03" cy="194.41" r="0.6" fill="#1f4f8b"/>
<circle cx="443.09" cy="196" r="0.6" fill="#5a82b8"/>
<circle cx="461.51" cy="195.47" r="0.6" fill="#7d9cc8"/>
<circle cx="450.4" cy="188.98" r="0.6" fill="#3a6aa6"/>
<circle cx="449.33" cy="192.43" r="0.6" fill="#3a6aa6"/>
<circle cx="460.9" cy="193.19" r="0.6" fill="#3a6aa6"/>
<circle cx="457.2" cy="182.79" r="0.6" fill="#5a82b8"/>
<circle cx="465.03" cy="194.57" r="0.6" fill="#1f4f8b"/>
<circle cx="455.82" cy="188.91" r="0.6" fill="#2a5c9a"/>
<circle cx="450.89" cy="195.76" r="0.6" fill="#1f4f8b"/>
<circle cx="445.66" cy="195.82" r="0.6" fill="#5a82b8"/>
<circle cx="463.23" cy="192.93" r="0.6" fill="#3a6aa6"/>
<circle cx="441.01" cy="196" r="0.6" fill="#7d9cc8"/>
<circle cx="464.04" cy="194.57" r="0.6" fill="#5a82b8"/>
<circle cx="443.49" cy="196" r="0.6" fill="#2a5c9a"/>
<circle cx="442.78" cy="196" r="0.6" fill="#5a82b8"/>
<circle cx="444.8" cy="195.87" r="0.6" fill="#3a6aa6"/>
<circle cx="461.46" cy="188.12" r="0.6" fill="#2a5c9a"/>
<circle cx="441.83" cy="196" r="0.6" fill="#3a6aa6"/>
<circle cx="464.11" cy="194.25" r="0.6" fill="#1f4f8b"/>
<circle cx="458.19" cy="186.82" r="0.6" fill="#5a82b8"/>
<circle cx="462.22" cy="195.42" r="0.6" fill="#3a6aa6"/>
<circle cx="448.28" cy="192.67" r="0.6" fill="#2a5c9a"/>
<circle cx="441.84" cy="196" r="0.6" fill="#7d9cc8"/>
<circle cx="446.76" cy="195.93" r="0.6" fill="#5a82b8"/>
<circle cx="463.79" cy="190.79" r="0.6" fill="#3a6aa6"/>
<circle cx="445.61" cy="195.54" r="0.6" fill="#1f4f8b"/>
<circle cx="459.31" cy="186.8" r="0.6" fill="#2a5c9a"/>
<circle cx="460.4" cy="195.13" r="0.6" fill="#2a5c9a"/>
<circle cx="464.51" cy="192.01" r="0.6" fill="#5a82b8"/>
<circle cx="459.16" cy="194.04" r="0.6" fill="#5a82b8"/>
<circle cx="442.52" cy="196" r="0.6" fill="#5a82b8"/>
<circle cx="445.24" cy="195.99" r="0.6" fill="#7d9cc8"/>
<circle cx="455.13" cy="181.28" r="0.6" fill="#1f4f8b"/>
<circle cx="446.92" cy="192.99" r="0.6" fill="#1f4f8b"/>
<circle cx="464.39" cy="195.92" r="0.6" fill="#2a5c9a"/>
<circle cx="457.11" cy="189.83" r="0.6" fill="#1f4f8b"/>
<circle cx="442.2" cy="196" r="0.6" fill="#5a82b8"/>
<circle cx="448.65" cy="195.94" r="0.6" fill="#1f4f8b"/>
<circle cx="464.75" cy="195.44" r="0.6" fill="#7d9cc8"/>
<circle cx="457.01" cy="194.69" r="0.6" fill="#2a5c9a"/>
<circle cx="443.11" cy="196" r="0.6" fill="#1f4f8b"/>
<circle cx="443.17" cy="196" r="0.6" fill="#2a5c9a"/>
<circle cx="455.96" cy="182.35" r="0.6" fill="#2a5c9a"/>
<circle cx="456.62" cy="191.02" r="0.6" fill="#3a6aa6"/>
<circle cx="453.16" cy="190.53" r="0.6" fill="#5a82b8"/>
<circle cx="454.06" cy="195.42" r="0.6" fill="#1f4f8b"/>
<circle cx="463.82" cy="194.63" r="0.6" fill="#5a82b8"/>
<path d="M468.4,196 L471,191 L474,187 L477,184 L480.5,182.5 L484,184 L487,187.5 L490,192 L492,196 Z" fill="#c8102e"/>
<circle cx="489.34" cy="189.94" r="0.6" fill="#c8102e"/>
<circle cx="470.9" cy="193.64" r="0.6" fill="#e04050"/>
<circle cx="487.58" cy="194.14" r="0.6" fill="#d02038"/>
<circle cx="480.65" cy="188.06" r="0.6" fill="#c8102e"/>
<circle cx="487.07" cy="186.04" r="0.6" fill="#d02038"/>
<circle cx="474.26" cy="191.18" r="0.6" fill="#d02038"/>
<circle cx="468.68" cy="195.76" r="0.6" fill="#e04050"/>
<circle cx="489.13" cy="190.53" r="0.6" fill="#c8102e"/>
<circle cx="477.8" cy="192.09" r="0.6" fill="#c8102e"/>
<circle cx="489.45" cy="192.77" r="0.6" fill="#d02038"/>
<circle cx="481.58" cy="189.31" r="0.6" fill="#c8102e"/>
<circle cx="485.34" cy="187.63" r="0.6" fill="#e04050"/>
<circle cx="470.11" cy="192.3" r="0.6" fill="#d02038"/>
<circle cx="475.37" cy="193.11" r="0.6" fill="#d02038"/>
<circle cx="473.93" cy="188.86" r="0.6" fill="#e04050"/>
<circle cx="468.33" cy="195.32" r="0.6" fill="#c8102e"/>
<circle cx="468.17" cy="195.98" r="0.6" fill="#d02038"/>
<circle cx="487.75" cy="193.15" r="0.6" fill="#e04050"/>
<circle cx="490.76" cy="194.32" r="0.6" fill="#d02038"/>
<circle cx="480.42" cy="194.73" r="0.6" fill="#d02038"/>
<circle cx="475.59" cy="195.97" r="0.6" fill="#d02038"/>
<circle cx="485.31" cy="195.49" r="0.6" fill="#d02038"/>
<circle cx="482.95" cy="194.78" r="0.6" fill="#e8707a"/>
<circle cx="486.97" cy="195.47" r="0.6" fill="#e04050"/>
<circle cx="478.42" cy="193.35" r="0.6" fill="#e8707a"/>
<circle cx="471.7" cy="195.88" r="0.6" fill="#d02038"/>
<circle cx="480.55" cy="174.02" r="0.6" fill="#c8102e"/>
<circle cx="470.04" cy="192.35" r="0.6" fill="#e8707a"/>
<circle cx="484.29" cy="194.26" r="0.6" fill="#c8102e"/>
<circle cx="468.31" cy="195.28" r="0.6" fill="#e8707a"/>
<circle cx="484.77" cy="192.53" r="0.6" fill="#e8707a"/>
<circle cx="472.78" cy="194.32" r="0.6" fill="#d02038"/>
<circle cx="474.93" cy="190.35" r="0.6" fill="#d02038"/>
<circle cx="476.48" cy="183.18" r="0.6" fill="#c8102e"/>
<circle cx="482.64" cy="190.74" r="0.6" fill="#d02038"/>
<circle cx="471" cy="195.1" r="0.6" fill="#e8707a"/>
<circle cx="468.42" cy="195.85" r="0.6" fill="#c8102e"/>
<circle cx="485.96" cy="193.87" r="0.6" fill="#d02038"/>
<circle cx="487.01" cy="188.89" r="0.6" fill="#e8707a"/>
<circle cx="484.23" cy="183.08" r="0.6" fill="#c8102e"/>
<circle cx="487.11" cy="193.36" r="0.6" fill="#c8102e"/>
<circle cx="470.04" cy="193.59" r="0.6" fill="#d02038"/>
<circle cx="487.42" cy="195.95" r="0.6" fill="#c8102e"/>
<circle cx="482.45" cy="188.41" r="0.6" fill="#e8707a"/>
<circle cx="480.87" cy="182.7" r="0.6" fill="#e8707a"/>
<circle cx="491.57" cy="194.66" r="0.6" fill="#c8102e"/>
<circle cx="480.65" cy="179.39" r="0.6" fill="#e04050"/>
<circle cx="490.98" cy="195.99" r="0.6" fill="#d02038"/>
<circle cx="474.46" cy="195.63" r="0.6" fill="#c8102e"/>
<circle cx="486.46" cy="190.18" r="0.6" fill="#e8707a"/>
<circle cx="475.02" cy="182.98" r="0.6" fill="#e04050"/>
<circle cx="490.27" cy="195.44" r="0.6" fill="#c8102e"/>
<circle cx="485.96" cy="188.83" r="0.6" fill="#e04050"/>
<circle cx="489.48" cy="192.57" r="0.6" fill="#d02038"/>
<circle cx="479.34" cy="195.2" r="0.6" fill="#c8102e"/>
<circle cx="473.36" cy="185.15" r="0.6" fill="#e8707a"/>
<circle cx="477.14" cy="195.99" r="0.6" fill="#e8707a"/>
<circle cx="476.76" cy="184.1" r="0.6" fill="#d02038"/>
<circle cx="489.8" cy="193.38" r="0.6" fill="#e8707a"/>
<circle cx="475.44" cy="183.99" r="0.6" fill="#e04050"/>
<circle cx="473.6" cy="195.53" r="0.6" fill="#e04050"/>
<circle cx="474.99" cy="193.73" r="0.6" fill="#c8102e"/>
<circle cx="489.48" cy="195.53" r="0.6" fill="#e8707a"/>
<circle cx="486.28" cy="194.52" r="0.6" fill="#c8102e"/>
<circle cx="481.46" cy="184.99" r="0.6" fill="#e8707a"/>
<circle cx="477.71" cy="190.07" r="0.6" fill="#d02038"/>
<circle cx="474.91" cy="193.6" r="0.6" fill="#e04050"/>
<circle cx="472.09" cy="195.93" r="0.6" fill="#c8102e"/>
<circle cx="474.74" cy="189.9" r="0.6" fill="#d02038"/>
<circle cx="478.13" cy="191.75" r="0.6" fill="#c8102e"/>
<circle cx="483.34" cy="185.53" r="0.6" fill="#c8102e"/>
<circle cx="469" cy="194.95" r="0.6" fill="#c8102e"/>
<circle cx="475.3" cy="184.06" r="0.6" fill="#e8707a"/>
<circle cx="490.2" cy="195.44" r="0.6" fill="#e8707a"/>
<circle cx="488.08" cy="196" r="0.6" fill="#d02038"/>
<circle cx="470.23" cy="194.86" r="0.6" fill="#e04050"/>
<circle cx="482.59" cy="195.19" r="0.6" fill="#e8707a"/>
<circle cx="485.54" cy="185.94" r="0.6" fill="#d02038"/>
<circle cx="484.97" cy="183.06" r="0.6" fill="#c8102e"/>
<circle cx="476.45" cy="183.11" r="0.6" fill="#d02038"/>
<circle cx="472.56" cy="193.55" r="0.6" fill="#e8707a"/>
<circle cx="489.33" cy="190.01" r="0.6" fill="#c8102e"/>
<circle cx="473.52" cy="185.37" r="0.6" fill="#e8707a"/>
<circle cx="476.69" cy="195.12" r="0.6" fill="#e04050"/>
<circle cx="470.75" cy="196" r="0.6" fill="#e8707a"/>
<circle cx="491.09" cy="193.49" r="0.6" fill="#c8102e"/>
<circle cx="479.52" cy="174.91" r="0.6" fill="#e04050"/>
<circle cx="467.89" cy="195.45" r="0.6" fill="#e04050"/>
<circle cx="485.9" cy="194.71" r="0.6" fill="#e04050"/>
<circle cx="476.86" cy="192.81" r="0.6" fill="#e8707a"/>
<circle cx="483.24" cy="183.76" r="0.6" fill="#c8102e"/>
<circle cx="481.6" cy="192.2" r="0.6" fill="#e04050"/>
<circle cx="490.61" cy="195.92" r="0.6" fill="#e8707a"/>
<circle cx="468.73" cy="195.29" r="0.6" fill="#d02038"/>
<circle cx="474.14" cy="187.95" r="0.6" fill="#d02038"/>
<circle cx="474.14" cy="195.52" r="0.6" fill="#e8707a"/>
<circle cx="478.09" cy="194.16" r="0.6" fill="#e8707a"/>
<circle cx="488.46" cy="194.92" r="0.6" fill="#e8707a"/>
<circle cx="476.22" cy="183.52" r="0.6" fill="#c8102e"/>
<circle cx="487.54" cy="195.39" r="0.6" fill="#c8102e"/>
<circle cx="468.02" cy="195.55" r="0.6" fill="#e8707a"/>
<circle cx="488.77" cy="195.8" r="0.6" fill="#d02038"/>
<circle cx="472.25" cy="189.29" r="0.6" fill="#c8102e"/>
<circle cx="479.06" cy="195.29" r="0.6" fill="#e04050"/>
<circle cx="482.16" cy="180.47" r="0.6" fill="#e8707a"/>
<circle cx="479.94" cy="195.61" r="0.6" fill="#e8707a"/>
<circle cx="486.39" cy="191.55" r="0.6" fill="#c8102e"/>
<circle cx="472.78" cy="192.97" r="0.6" fill="#e8707a"/>
<circle cx="487.41" cy="188.55" r="0.6" fill="#e8707a"/>
<circle cx="489.93" cy="194.73" r="0.6" fill="#d02038"/>
<circle cx="489.35" cy="195.58" r="0.6" fill="#d02038"/>
<circle cx="477.84" cy="176.91" r="0.6" fill="#e04050"/>
<circle cx="472.81" cy="192.96" r="0.6" fill="#e04050"/>
<circle cx="470.91" cy="194.41" r="0.6" fill="#c8102e"/>
<circle cx="483.83" cy="195.11" r="0.6" fill="#d02038"/>
<circle cx="486.07" cy="195.66" r="0.6" fill="#e8707a"/>
<circle cx="468.38" cy="195.52" r="0.6" fill="#d02038"/>
<circle cx="472.31" cy="195.97" r="0.6" fill="#e8707a"/>
<circle cx="491.04" cy="194.63" r="0.6" fill="#d02038"/>
<circle cx="478.97" cy="195.39" r="0.6" fill="#e04050"/>
<circle cx="490.47" cy="195.97" r="0.6" fill="#d02038"/>
<circle cx="487.4" cy="195.69" r="0.6" fill="#d02038"/>
<circle cx="485.97" cy="192.85" r="0.6" fill="#d02038"/>
<circle cx="471.22" cy="193.15" r="0.6" fill="#c8102e"/>
<circle cx="474.45" cy="195.42" r="0.6" fill="#e8707a"/>
<circle cx="476.69" cy="191.64" r="0.6" fill="#e8707a"/>
<circle cx="480.92" cy="188.88" r="0.6" fill="#d02038"/>
<circle cx="491.14" cy="195.83" r="0.6" fill="#c8102e"/>
<circle cx="480.86" cy="181.58" r="0.6" fill="#d02038"/>
<circle cx="473.32" cy="189.69" r="0.6" fill="#c8102e"/>
<circle cx="467.7" cy="195.73" r="0.6" fill="#e8707a"/>
<circle cx="473.19" cy="189.15" r="0.6" fill="#d02038"/>
<circle cx="486.93" cy="195.81" r="0.6" fill="#d02038"/>
<circle cx="468.44" cy="195.53" r="0.6" fill="#e04050"/>
<circle cx="486.52" cy="190.93" r="0.6" fill="#e8707a"/>
<circle cx="478.53" cy="184.3" r="0.6" fill="#e04050"/>
<circle cx="481.43" cy="192.5" r="0.6" fill="#e8707a"/>
<circle cx="491.71" cy="195.72" r="0.6" fill="#d02038"/>
<circle cx="481.98" cy="184.17" r="0.6" fill="#e8707a"/>
<circle cx="468.85" cy="195.7" r="0.6" fill="#e8707a"/>
<circle cx="469.91" cy="194.18" r="0.6" fill="#e04050"/>
<circle cx="487.83" cy="195.44" r="0.6" fill="#e04050"/>
<circle cx="469.05" cy="196" r="0.6" fill="#d02038"/>
<circle cx="481.39" cy="195.75" r="0.6" fill="#c8102e"/>
<circle cx="470.36" cy="191.36" r="0.6" fill="#e04050"/>
<circle cx="491.2" cy="195.62" r="0.6" fill="#e04050"/>
<circle cx="479.36" cy="194.49" r="0.6" fill="#c8102e"/>
<circle cx="473.92" cy="186.51" r="0.6" fill="#e04050"/>
<circle cx="477.02" cy="186.45" r="0.6" fill="#d02038"/>
<circle cx="484.7" cy="188.81" r="0.6" fill="#e8707a"/>
<circle cx="489.92" cy="192.15" r="0.6" fill="#d02038"/>
<circle cx="481.36" cy="177.49" r="0.6" fill="#e04050"/>
<circle cx="481.25" cy="195.97" r="0.6" fill="#c8102e"/>
<circle cx="484.5" cy="188.29" r="0.6" fill="#c8102e"/>
<circle cx="468.14" cy="195.65" r="0.6" fill="#e8707a"/>
<circle cx="485.17" cy="188.93" r="0.6" fill="#d02038"/>
<circle cx="480.64" cy="182.29" r="0.6" fill="#c8102e"/>
<circle cx="485.12" cy="189.2" r="0.6" fill="#c8102e"/>
<circle cx="469.14" cy="194.94" r="0.6" fill="#c8102e"/>
<circle cx="490.93" cy="194.25" r="0.6" fill="#e04050"/>
<circle cx="470.45" cy="192.18" r="0.6" fill="#e04050"/>
<circle cx="478.61" cy="192.06" r="0.6" fill="#e04050"/>
<circle cx="480.14" cy="175.45" r="0.6" fill="#e8707a"/>
<circle cx="476.83" cy="186.07" r="0.6" fill="#e04050"/>
<circle cx="475.21" cy="188.56" r="0.6" fill="#e8707a"/>
<circle cx="469.66" cy="195.04" r="0.6" fill="#c8102e"/>
<circle cx="483.18" cy="190.37" r="0.6" fill="#e8707a"/>
<circle cx="471.78" cy="195.48" r="0.6" fill="#e8707a"/>
<circle cx="471.66" cy="192.95" r="0.6" fill="#e04050"/>
<circle cx="489.85" cy="195.66" r="0.6" fill="#e04050"/>
<circle cx="481.3" cy="187.79" r="0.6" fill="#d02038"/>
<circle cx="481.1" cy="183.71" r="0.6" fill="#e8707a"/>
<circle cx="481.03" cy="192.81" r="0.6" fill="#e04050"/>
<circle cx="474.69" cy="195.39" r="0.6" fill="#e04050"/>
<circle cx="477.92" cy="180.17" r="0.6" fill="#e04050"/>
<circle cx="479.42" cy="181.85" r="0.6" fill="#c8102e"/>
<circle cx="490.93" cy="195.85" r="0.6" fill="#c8102e"/>
<circle cx="475.74" cy="195.34" r="0.6" fill="#e04050"/>
<circle cx="488.19" cy="192.11" r="0.6" fill="#c8102e"/>
<circle cx="486.52" cy="191.12" r="0.6" fill="#d02038"/>
<circle cx="483.09" cy="184.5" r="0.6" fill="#e04050"/>
<circle cx="469.95" cy="192.21" r="0.6" fill="#c8102e"/>
<circle cx="475.14" cy="193.37" r="0.6" fill="#e04050"/>
<circle cx="477.56" cy="180.12" r="0.6" fill="#c8102e"/>
<circle cx="469.12" cy="195.93" r="0.6" fill="#c8102e"/>
<circle cx="490.61" cy="193.39" r="0.6" fill="#e8707a"/>
<circle cx="470.05" cy="194.56" r="0.6" fill="#d02038"/>
<circle cx="477.83" cy="177.83" r="0.6" fill="#e04050"/>
<circle cx="483.46" cy="185.85" r="0.6" fill="#e04050"/>
<circle cx="490.36" cy="192.2" r="0.6" fill="#e8707a"/>
<circle cx="476.82" cy="194.5" r="0.6" fill="#d02038"/>
<circle cx="470.31" cy="193.74" r="0.6" fill="#c8102e"/>
<circle cx="483.54" cy="186.31" r="0.6" fill="#e8707a"/>
<circle cx="478.22" cy="192.67" r="0.6" fill="#e8707a"/>
<circle cx="491.34" cy="195.32" r="0.6" fill="#d02038"/>
<circle cx="489.11" cy="189.66" r="0.6" fill="#d02038"/>
<circle cx="476.85" cy="186.51" r="0.6" fill="#d02038"/>
<circle cx="475.48" cy="184.58" r="0.6" fill="#c8102e"/>
<circle cx="470.92" cy="195.89" r="0.6" fill="#e8707a"/>
<circle cx="475.01" cy="189.71" r="0.6" fill="#e04050"/>
<circle cx="478.69" cy="178.09" r="0.55" fill="#e04050"/>
<circle cx="480.94" cy="168.91" r="0.55" fill="#e8808a"/>
<circle cx="482.86" cy="161.62" r="0.55" fill="#d02038"/>
<circle cx="480.94" cy="183.65" r="0.55" fill="#d02038"/>
<circle cx="480.79" cy="164.32" r="0.55" fill="#d02038"/>
<circle cx="477.18" cy="160.42" r="0.55" fill="#e04050"/>
<circle cx="478.34" cy="170.53" r="0.55" fill="#e8808a"/>
<circle cx="477.12" cy="176.87" r="0.55" fill="#d02038"/>
<circle cx="478.87" cy="181.9" r="0.55" fill="#e8808a"/>
<circle cx="479.63" cy="159.42" r="0.55" fill="#e8808a"/>
<circle cx="482.22" cy="163.58" r="0.55" fill="#d02038"/>
<circle cx="479.37" cy="173.98" r="0.55" fill="#e8808a"/>
<circle cx="485.95" cy="181.62" r="0.55" fill="#e8808a"/>
<circle cx="486.95" cy="165.62" r="0.55" fill="#e04050"/>
<circle cx="475.75" cy="165.79" r="0.55" fill="#e8808a"/>
<circle cx="480.46" cy="169.2" r="0.55" fill="#d02038"/>
<circle cx="478.77" cy="163.26" r="0.55" fill="#e8808a"/>
<circle cx="475.43" cy="171.16" r="0.55" fill="#d02038"/>
<circle cx="479.06" cy="181.03" r="0.55" fill="#e8808a"/>
<circle cx="478.67" cy="180.19" r="0.55" fill="#e8808a"/>
<circle cx="483.79" cy="167.18" r="0.55" fill="#e8808a"/>
<circle cx="481.81" cy="166.85" r="0.55" fill="#e8808a"/>
<circle cx="482.99" cy="179.49" r="0.55" fill="#d02038"/>
<circle cx="482.5" cy="175.6" r="0.55" fill="#e8808a"/>
<circle cx="485.28" cy="178.83" r="0.55" fill="#e04050"/>
<circle cx="475.56" cy="172.45" r="0.55" fill="#e04050"/>
<circle cx="487.63" cy="177.9" r="0.55" fill="#d02038"/>
<circle cx="487.67" cy="181.02" r="0.55" fill="#d02038"/>
<circle cx="483.66" cy="168.78" r="0.55" fill="#d02038"/>
<circle cx="480" cy="175.41" r="0.55" fill="#d02038"/>
<circle cx="483.39" cy="182.84" r="0.55" fill="#d02038"/>
<circle cx="483.54" cy="173.7" r="0.55" fill="#e8808a"/>
<circle cx="487.1" cy="168.08" r="0.55" fill="#e8808a"/>
<circle cx="478.98" cy="177.85" r="0.55" fill="#e04050"/>
<circle cx="482.25" cy="172.88" r="0.55" fill="#e04050"/>
<circle cx="485.2" cy="177.62" r="0.55" fill="#e04050"/>
<circle cx="481.9" cy="158.07" r="0.55" fill="#e04050"/>
<circle cx="475.74" cy="158.39" r="0.55" fill="#d02038"/>
<circle cx="476.38" cy="170.37" r="0.55" fill="#e04050"/>
<circle cx="486.69" cy="170.67" r="0.55" fill="#e04050"/>
<circle cx="493.3" cy="182.35" r="0.55" fill="#e8808a"/>
<circle cx="497.69" cy="190.6" r="0.55" fill="#e05060"/>
<circle cx="486.28" cy="194.38" r="0.55" fill="#e05060"/>
<circle cx="499.56" cy="191.75" r="0.55" fill="#e05060"/>
<circle cx="487.4" cy="187.17" r="0.55" fill="#e05060"/>
<circle cx="488.41" cy="187.54" r="0.55" fill="#e05060"/>
<circle cx="492" cy="186.2" r="0.55" fill="#e8808a"/>
<circle cx="491.48" cy="192.81" r="0.55" fill="#e05060"/>
<circle cx="498.52" cy="191.65" r="0.55" fill="#e05060"/>
<circle cx="487.85" cy="194.6" r="0.55" fill="#e05060"/>
<circle cx="491.72" cy="182.37" r="0.55" fill="#e8808a"/>
<circle cx="493.35" cy="184.82" r="0.55" fill="#e8808a"/>
<circle cx="496.68" cy="194.19" r="0.55" fill="#e8808a"/>
<circle cx="497.1" cy="187.83" r="0.55" fill="#e8808a"/>
<circle cx="492" cy="149.5" r="0.5" fill="#d04050"/>
<text x="490.6" y="152.1" font-size="6.9" fill="#c41e4a" textLength="14.5" lengthAdjust="spacingAndGlyphs">TP53</text>
<line x1="497.4" y1="156" x2="482.5" y2="168.2" stroke="#222" stroke-width="0.8" marker-end="url(#ah)"/>
<text x="7.3" y="225.4" font-size="12" font-weight="bold" fill="#000">E</text>
<defs>
<filter id="blr" x="-50%" y="-10%" width="200%" height="120%"><feGaussianBlur stdDeviation="1.6"/></filter>
<filter id="blr2" x="-50%" y="-10%" width="200%" height="120%"><feGaussianBlur stdDeviation="0.9"/></filter>
<linearGradient id="gEr" x1="0" y1="0" x2="0" y2="1"><stop offset="0" stop-color="#f2a88a"/><stop offset="0.05" stop-color="#f6c0a8"/><stop offset="0.12" stop-color="#f8d0be"/><stop offset="0.4" stop-color="#fadcd0"/><stop offset="1" stop-color="#fce8e0"/></linearGradient>
<linearGradient id="gEb" x1="0" y1="0" x2="0" y2="1"><stop offset="0" stop-color="#d2e6f5"/><stop offset="1" stop-color="#e2eff8"/></linearGradient>
<linearGradient id="cbr" x1="0" y1="0" x2="0" y2="1"><stop offset="0" stop-color="#67000d"/><stop offset="0.2" stop-color="#b51a1c"/><stop offset="0.45" stop-color="#e0533a"/><stop offset="0.7" stop-color="#f3a58e"/><stop offset="1" stop-color="#f7f2f2"/></linearGradient>
<linearGradient id="cbb" x1="0" y1="0" x2="0" y2="1"><stop offset="0" stop-color="#0c3a78"/><stop offset="0.25" stop-color="#1d6aa8"/><stop offset="0.5" stop-color="#3ea6cf"/><stop offset="0.75" stop-color="#9ed4e8"/><stop offset="1" stop-color="#f2f6f8"/></linearGradient>
</defs>
<text x="45.8" y="237.3" font-size="6.3" text-anchor="middle">HES4</text>
<rect x="29.9" y="241.1" width="32.5" height="104.9" fill="url(#gEr)"/>
<g clip-path="url(#clE)"><defs><clipPath id="clE"><rect x="29.9" y="241.1" width="32.5" height="104.9"/></clipPath></defs>
<path d="M33,241 L58,241 L54,262 L51,290 L48.5,320 L46,342 L44.5,342 L42.5,320 L39.5,290 L36.5,262 Z" fill="#f6bca6" filter="url(#blr)"/>
<path d="M38.5,241 L52.5,241 L49.5,270 L48.2,300 L46.8,335 L45.6,340 L44.4,335 L43.2,300 L42,270 Z" fill="#f4a48c" filter="url(#blr)"/>
<path d="M41.2,241 L50,241 L48.2,275 L46.6,310 L45.6,326 L44.8,310 L43.6,275 Z" fill="#e8583e" filter="url(#blr2)"/>
<path d="M42.4,241 L48.8,241 L47.2,262 L45.8,288 L44.6,262 Z" fill="#e03820" filter="url(#blr2)"/>
</g>
<rect x="30.4" y="241.6" width="31.5" height="103.9" fill="none" stroke="#333" stroke-width="1"/>
<rect x="66.5" y="244.3" width="2.3" height="98.1" fill="url(#cbr)"/>
<text x="73" y="247.1" font-size="7" textLength="8.95" lengthAdjust="spacingAndGlyphs">1.0</text>
<text x="134.4" y="247.1" font-size="7" textLength="8.95" lengthAdjust="spacingAndGlyphs">1.0</text>
<text x="73" y="266.6" font-size="7" textLength="8.95" lengthAdjust="spacingAndGlyphs">0.8</text>
<text x="134.4" y="266.6" font-size="7" textLength="8.95" lengthAdjust="spacingAndGlyphs">0.8</text>
<text x="73" y="286.1" font-size="7" textLength="8.95" lengthAdjust="spacingAndGlyphs">0.6</text>
<text x="134.4" y="286.1" font-size="7" textLength="8.95" lengthAdjust="spacingAndGlyphs">0.6</text>
<text x="73" y="305.6" font-size="7" textLength="8.95" lengthAdjust="spacingAndGlyphs">0.4</text>
<text x="134.4" y="305.6" font-size="7" textLength="8.95" lengthAdjust="spacingAndGlyphs">0.4</text>
<text x="73" y="325.1" font-size="7" textLength="8.95" lengthAdjust="spacingAndGlyphs">0.2</text>
<text x="134.4" y="325.1" font-size="7" textLength="8.95" lengthAdjust="spacingAndGlyphs">0.2</text>
<text x="73" y="344.6" font-size="7" textLength="8.95" lengthAdjust="spacingAndGlyphs">0.0</text>
<text x="134.4" y="344.6" font-size="7" textLength="8.95" lengthAdjust="spacingAndGlyphs">0.0</text>
<text x="106.6" y="237.3" font-size="6.3" text-anchor="middle">Input</text>
<rect x="90.5" y="241.1" width="32.5" height="104.9" fill="url(#gEb)"/>
<defs><linearGradient id="gEs" x1="0" y1="0" x2="0" y2="1"><stop offset="0" stop-color="#9ccfe8"/><stop offset="0.3" stop-color="#c2e0f2"/><stop offset="1" stop-color="#d4e8f5"/></linearGradient></defs>
<path d="M105,241.5 L109,241.5 L108.3,345 L105.7,345 Z" fill="url(#gEs)" filter="url(#blr2)"/>
<rect x="91" y="241.6" width="31.5" height="103.9" fill="none" stroke="#333" stroke-width="1"/>
<rect x="128.4" y="244.3" width="2.1" height="98.1" fill="url(#cbb)"/>
<text x="25" y="293" font-size="7.8" text-anchor="middle" transform="rotate(-90 25 293)" textLength="48" lengthAdjust="spacingAndGlyphs">ChIP-seq peaks</text>
<text x="30.6" y="355.3" font-size="6.6" text-anchor="middle">&#8722;3.0</text>
<text x="46" y="355.3" font-size="6.6" text-anchor="middle">TSS</text>
<text x="62" y="355.3" font-size="6.6" text-anchor="middle">+3.0</text>
<text x="46" y="366.1" font-size="6.6" text-anchor="middle" textLength="40" lengthAdjust="spacingAndGlyphs">Distance from</text>
<text x="46" y="373.9" font-size="6.6" text-anchor="middle" textLength="49" lengthAdjust="spacingAndGlyphs">nearest TSS (Kb)</text>
<text x="91.6" y="355.3" font-size="6.6" text-anchor="middle">&#8722;3.0</text>
<text x="107" y="355.3" font-size="6.6" text-anchor="middle">TSS</text>
<text x="123" y="355.3" font-size="6.6" text-anchor="middle">+3.0</text>
<text x="107" y="366.1" font-size="6.6" text-anchor="middle" textLength="40" lengthAdjust="spacingAndGlyphs">Distance from</text>
<text x="107" y="373.9" font-size="6.6" text-anchor="middle" textLength="49" lengthAdjust="spacingAndGlyphs">nearest TSS (Kb)</text>
<text x="164.4" y="225.2" font-size="12" font-weight="bold" fill="#000">F</text>
<defs>
<clipPath id="cY"><ellipse cx="236.4" cy="260.4" rx="29.4" ry="17.4"/></clipPath>
</defs>
<ellipse cx="209" cy="260.1" rx="24" ry="13.9" fill="#a79fd8"/>
<ellipse cx="266.7" cy="260.2" rx="23.6" ry="13.7" fill="#74bd5c"/>
<ellipse cx="236.4" cy="260.4" rx="29.4" ry="17.4" fill="#f8cf5e"/>
<g clip-path="url(#cY)"><ellipse cx="209" cy="260.1" rx="24" ry="13.9" fill="#e2a964"/><ellipse cx="266.7" cy="260.2" rx="23.6" ry="13.7" fill="#d3c335"/></g>
<ellipse cx="209" cy="260.1" rx="24" ry="13.9" fill="none" stroke="#2c2c2c" stroke-width="0.8"/>
<ellipse cx="266.7" cy="260.2" rx="23.6" ry="13.7" fill="none" stroke="#2c2c2c" stroke-width="0.8"/>
<ellipse cx="236.4" cy="260.4" rx="29.4" ry="17.4" fill="none" stroke="#2c2c2c" stroke-width="0.8"/>
<text x="196.5" y="262.9" font-size="6.8" text-anchor="middle" fill="#333">600</text>
<text x="219.6" y="262.9" font-size="6.8" text-anchor="middle" fill="#333">173</text>
<text x="255" y="262.9" font-size="6.8" text-anchor="middle" fill="#333">240</text>
<text x="276.2" y="262.9" font-size="6.8" text-anchor="middle" fill="#333">984</text>
<text x="236.5" y="275" font-size="6.8" text-anchor="middle" fill="#333">4046</text>
<text x="199.4" y="234.4" font-size="6.6" text-anchor="middle">DOWN with</text>
<text x="199.4" y="242.1" font-size="6.6" text-anchor="middle">HES4</text>
<text x="271.8" y="234.4" font-size="6.6" text-anchor="middle">UP with</text>
<text x="271.8" y="242.1" font-size="6.6" text-anchor="middle">HES4</text>
<text x="236" y="288.6" font-size="6.6" text-anchor="middle">ChIP HES4</text>
<line x1="257.7" y1="267.7" x2="262.9" y2="297.2" stroke="#222" stroke-width="0.7" marker-end="url(#ah)"/>
<text x="164.2" y="297.6" font-size="12" font-weight="bold" fill="#000">G</text>
<text x="276.4" y="307.4" font-size="6.6" text-anchor="middle" textLength="62.5" lengthAdjust="spacingAndGlyphs">&#8220;Hallmark&#8221; gene sets</text>
<text x="231.2" y="322.2" font-size="6.8" text-anchor="end">G2/M Checkpoint</text>
<line x1="232.6" y1="319.8" x2="237.9" y2="319.8" stroke="#222" stroke-width="0.8"/>
<rect x="238.2" y="315.8" width="72.6" height="8" fill="#c8102e"/>
<text x="231.2" y="333.1" font-size="6.8" text-anchor="end">Myc Targets V1</text>
<line x1="232.6" y1="330.7" x2="237.9" y2="330.7" stroke="#222" stroke-width="0.8"/>
<rect x="238.2" y="326.7" width="53.8" height="8" fill="#c8102e"/>
<text x="231.2" y="344" font-size="6.8" text-anchor="end">mTORC1 Signaling</text>
<line x1="232.6" y1="341.6" x2="237.9" y2="341.6" stroke="#222" stroke-width="0.8"/>
<rect x="238.2" y="337.6" width="26.8" height="8" fill="#c8102e"/>
<text x="231.2" y="354.9" font-size="6.8" text-anchor="end">E2F Targets</text>
<line x1="232.6" y1="352.5" x2="237.9" y2="352.5" stroke="#222" stroke-width="0.8"/>
<rect x="238.2" y="348.5" width="19.7" height="8" fill="#c8102e"/>
<text x="231.2" y="365.8" font-size="6.8" text-anchor="end">Myc Targets V2</text>
<line x1="232.6" y1="363.4" x2="237.9" y2="363.4" stroke="#222" stroke-width="0.8"/>
<rect x="238.2" y="359.4" width="17.8" height="8" fill="#c8102e"/>
<line x1="255.3" y1="314.2" x2="255.3" y2="372" stroke="#6a000c" stroke-width="0.7" stroke-dasharray="1.4,0.8"/>
<line x1="237.9" y1="314.2" x2="237.9" y2="372.4" stroke="#222" stroke-width="0.9"/>
<line x1="237.5" y1="372" x2="315.6" y2="372" stroke="#222" stroke-width="0.9"/>
<line x1="237.8" y1="372" x2="237.8" y2="375" stroke="#222" stroke-width="0.8"/>
<text x="237.8" y="384.1" font-size="7.2" text-anchor="middle" textLength="3.6" lengthAdjust="spacingAndGlyphs">0</text>
<line x1="251.97" y1="372" x2="251.97" y2="375" stroke="#222" stroke-width="0.8"/>
<text x="251.97" y="384.1" font-size="7.2" text-anchor="middle" textLength="3.6" lengthAdjust="spacingAndGlyphs">1</text>
<line x1="266.14" y1="372" x2="266.14" y2="375" stroke="#222" stroke-width="0.8"/>
<text x="266.14" y="384.1" font-size="7.2" text-anchor="middle" textLength="3.6" lengthAdjust="spacingAndGlyphs">2</text>
<line x1="280.31" y1="372" x2="280.31" y2="375" stroke="#222" stroke-width="0.8"/>
<text x="280.31" y="384.1" font-size="7.2" text-anchor="middle" textLength="3.6" lengthAdjust="spacingAndGlyphs">3</text>
<line x1="294.48" y1="372" x2="294.48" y2="375" stroke="#222" stroke-width="0.8"/>
<text x="294.48" y="384.1" font-size="7.2" text-anchor="middle" textLength="3.6" lengthAdjust="spacingAndGlyphs">4</text>
<line x1="308.65" y1="372" x2="308.65" y2="375" stroke="#222" stroke-width="0.8"/>
<text x="308.65" y="384.1" font-size="7.2" text-anchor="middle" textLength="3.6" lengthAdjust="spacingAndGlyphs">5</text>
<line x1="268.5" y1="353.7" x2="280" y2="353.7" stroke="#222" stroke-width="0.6" stroke-dasharray="1,0.6"/>
<text x="282.3" y="356" font-size="6.8" textLength="21.2" lengthAdjust="spacingAndGlyphs">q&lt;0.05</text>
<text x="276" y="394.8" font-size="7.6" text-anchor="middle" textLength="52" lengthAdjust="spacingAndGlyphs">q-value (&#8722;log<tspan font-size="5" dy="1.5">10</tspan><tspan dy="-1.5">)</tspan></text>
<text x="331.8" y="263.6" font-size="12" font-weight="bold" fill="#000">H</text>
<line x1="377.4" y1="270.4" x2="377.4" y2="351.6" stroke="#222" stroke-width="0.9"/>
<line x1="377" y1="351.2" x2="483.4" y2="351.2" stroke="#222" stroke-width="0.9"/>
<line x1="374.6" y1="348" x2="377.4" y2="348" stroke="#222" stroke-width="0.8"/>
<text x="371.4" y="350.5" font-size="7" text-anchor="end" textLength="3.43" lengthAdjust="spacingAndGlyphs">0</text>
<line x1="374.6" y1="337.24" x2="377.4" y2="337.24" stroke="#222" stroke-width="0.8"/>
<text x="371.4" y="339.74" font-size="7" text-anchor="end" textLength="10.28" lengthAdjust="spacingAndGlyphs">200</text>
<line x1="374.6" y1="326.48" x2="377.4" y2="326.48" stroke="#222" stroke-width="0.8"/>
<text x="371.4" y="328.98" font-size="7" text-anchor="end" textLength="10.28" lengthAdjust="spacingAndGlyphs">400</text>
<line x1="374.6" y1="315.72" x2="377.4" y2="315.72" stroke="#222" stroke-width="0.8"/>
<text x="371.4" y="318.22" font-size="7" text-anchor="end" textLength="10.28" lengthAdjust="spacingAndGlyphs">600</text>
<line x1="374.6" y1="304.96" x2="377.4" y2="304.96" stroke="#222" stroke-width="0.8"/>
<text x="371.4" y="307.46" font-size="7" text-anchor="end" textLength="10.28" lengthAdjust="spacingAndGlyphs">800</text>
<line x1="374.6" y1="294.2" x2="377.4" y2="294.2" stroke="#222" stroke-width="0.8"/>
<text x="371.4" y="296.7" font-size="7" text-anchor="end" textLength="13.7" lengthAdjust="spacingAndGlyphs">1000</text>
<line x1="374.6" y1="283.44" x2="377.4" y2="283.44" stroke="#222" stroke-width="0.8"/>
<text x="371.4" y="285.94" font-size="7" text-anchor="end" textLength="13.7" lengthAdjust="spacingAndGlyphs">1200</text>
<line x1="374.6" y1="272.68" x2="377.4" y2="272.68" stroke="#222" stroke-width="0.8"/>
<text x="371.4" y="275.18" font-size="7" text-anchor="end" textLength="13.7" lengthAdjust="spacingAndGlyphs">1400</text>
<line x1="382" y1="351.2" x2="382" y2="353.8" stroke="#222" stroke-width="0.7"/>
<line x1="394.36" y1="351.2" x2="394.36" y2="353.8" stroke="#222" stroke-width="0.7"/>
<line x1="406.72" y1="351.2" x2="406.72" y2="353.8" stroke="#222" stroke-width="0.7"/>
<line x1="419.08" y1="351.2" x2="419.08" y2="353.8" stroke="#222" stroke-width="0.7"/>
<line x1="431.44" y1="351.2" x2="431.44" y2="353.8" stroke="#222" stroke-width="0.7"/>
<line x1="443.8" y1="351.2" x2="443.8" y2="353.8" stroke="#222" stroke-width="0.7"/>
<line x1="456.16" y1="351.2" x2="456.16" y2="353.8" stroke="#222" stroke-width="0.7"/>
<line x1="468.52" y1="351.2" x2="468.52" y2="353.8" stroke="#222" stroke-width="0.7"/>
<line x1="480.88" y1="351.2" x2="480.88" y2="353.8" stroke="#222" stroke-width="0.7"/>
<text x="382" y="363.9" font-size="7.5" text-anchor="middle" textLength="7.27" lengthAdjust="spacingAndGlyphs">&#8722;1</text>
<text x="407" y="363.9" font-size="7.5" text-anchor="middle" textLength="12.58" lengthAdjust="spacingAndGlyphs">&#8722;0.5</text>
<text x="432" y="363.9" font-size="7.5" text-anchor="middle" textLength="12.4" lengthAdjust="spacingAndGlyphs">TSS</text>
<text x="456.6" y="363.9" font-size="7.5" text-anchor="middle" textLength="12.58" lengthAdjust="spacingAndGlyphs">+0.5</text>
<text x="481" y="363.9" font-size="7.5" text-anchor="middle" textLength="7.27" lengthAdjust="spacingAndGlyphs">+1</text>
<text x="431.8" y="376.2" font-size="8.3" text-anchor="middle" textLength="93.5" lengthAdjust="spacingAndGlyphs">Distance from nearest TSS (Kb)</text>
<text x="351.2" y="310.2" font-size="8.3" text-anchor="middle" transform="rotate(-90 351.2 310.2)" textLength="60.6" lengthAdjust="spacingAndGlyphs">ChIP-seq peak score</text>
<circle cx="425.37" cy="347.16" r="0.45" fill="#555"/>
<circle cx="413.16" cy="347.14" r="0.45" fill="#b08890"/>
<circle cx="387.92" cy="345.13" r="0.45" fill="#555"/>
<circle cx="451.36" cy="346.98" r="0.45" fill="#777"/>
<circle cx="448.94" cy="344.62" r="0.45" fill="#777"/>
<circle cx="396.51" cy="346.95" r="0.45" fill="#555"/>
<circle cx="390.87" cy="343.01" r="0.45" fill="#b08890"/>
<circle cx="386.21" cy="347.8" r="0.45" fill="#a0787c"/>
<circle cx="457.38" cy="344.25" r="0.45" fill="#777"/>
<circle cx="446.08" cy="344.79" r="0.45" fill="#a0787c"/>
<circle cx="467.18" cy="347.32" r="0.45" fill="#a0787c"/>
<circle cx="407.56" cy="343.21" r="0.45" fill="#555"/>
<circle cx="399.55" cy="344.58" r="0.45" fill="#555"/>
<circle cx="467.79" cy="345.04" r="0.45" fill="#a0787c"/>
<circle cx="393.64" cy="347.7" r="0.45" fill="#555"/>
<circle cx="474.47" cy="344.42" r="0.45" fill="#555"/>
<circle cx="391.88" cy="343.89" r="0.45" fill="#777"/>
<circle cx="412.36" cy="345.78" r="0.45" fill="#777"/>
<circle cx="432.9" cy="347.08" r="0.45" fill="#777"/>
<circle cx="421.17" cy="344.9" r="0.45" fill="#555"/>
<circle cx="448.68" cy="344.81" r="0.45" fill="#555"/>
<circle cx="385.31" cy="343.87" r="0.45" fill="#b08890"/>
<circle cx="446.96" cy="345.83" r="0.45" fill="#b08890"/>
<circle cx="477.8" cy="345.08" r="0.45" fill="#555"/>
<circle cx="465.13" cy="344.09" r="0.45" fill="#777"/>
<circle cx="439.89" cy="342.24" r="0.45" fill="#999"/>
<circle cx="462.88" cy="345.19" r="0.45" fill="#555"/>
<circle cx="465" cy="347.61" r="0.45" fill="#555"/>
<circle cx="464.68" cy="345.92" r="0.45" fill="#a0787c"/>
<circle cx="399.48" cy="346.78" r="0.45" fill="#b08890"/>
<circle cx="453.08" cy="345.82" r="0.45" fill="#555"/>
<circle cx="422.49" cy="342.93" r="0.45" fill="#a0787c"/>
<circle cx="406.42" cy="347.25" r="0.45" fill="#999"/>
<circle cx="390.1" cy="346.27" r="0.45" fill="#555"/>
<circle cx="382.49" cy="347.23" r="0.45" fill="#a0787c"/>
<circle cx="413.92" cy="344.08" r="0.45" fill="#b08890"/>
<circle cx="452.29" cy="346.58" r="0.45" fill="#a0787c"/>
<circle cx="429.97" cy="347.28" r="0.45" fill="#b08890"/>
<circle cx="416.2" cy="347.33" r="0.45" fill="#999"/>
<circle cx="382.88" cy="346.83" r="0.45" fill="#777"/>
<circle cx="405.77" cy="347.43" r="0.45" fill="#777"/>
<circle cx="381.16" cy="347.04" r="0.45" fill="#555"/>
<circle cx="424.14" cy="344.58" r="0.45" fill="#999"/>
<circle cx="407.93" cy="346.21" r="0.45" fill="#a0787c"/>
<circle cx="435.07" cy="347.39" r="0.45" fill="#555"/>
<circle cx="386.43" cy="347.29" r="0.45" fill="#a0787c"/>
<circle cx="393.97" cy="344.38" r="0.45" fill="#b08890"/>
<circle cx="466.94" cy="346.51" r="0.45" fill="#777"/>
<circle cx="444.99" cy="347.55" r="0.45" fill="#999"/>
<circle cx="389.72" cy="345.07" r="0.45" fill="#555"/>
<circle cx="407.13" cy="345.27" r="0.45" fill="#555"/>
<circle cx="395.9" cy="345.16" r="0.45" fill="#777"/>
<circle cx="464.19" cy="347.27" r="0.45" fill="#b08890"/>
<circle cx="434.81" cy="342.62" r="0.45" fill="#777"/>
<circle cx="433.76" cy="343.57" r="0.45" fill="#555"/>
<circle cx="436.94" cy="347.05" r="0.45" fill="#a0787c"/>
<circle cx="433.35" cy="345.3" r="0.45" fill="#555"/>
<circle cx="465.99" cy="347.6" r="0.45" fill="#b08890"/>
<circle cx="433.13" cy="346.9" r="0.45" fill="#555"/>
<circle cx="389.76" cy="344.64" r="0.45" fill="#a0787c"/>
<circle cx="424.45" cy="341.87" r="0.45" fill="#b08890"/>
<circle cx="382.86" cy="347.81" r="0.45" fill="#777"/>
<circle cx="466.12" cy="347.51" r="0.45" fill="#b08890"/>
<circle cx="441.25" cy="343.93" r="0.45" fill="#555"/>
<circle cx="441" cy="347.41" r="0.45" fill="#b08890"/>
<circle cx="386.76" cy="347.65" r="0.45" fill="#777"/>
<circle cx="383.34" cy="347.98" r="0.45" fill="#555"/>
<circle cx="414.77" cy="347.08" r="0.45" fill="#b08890"/>
<circle cx="426.51" cy="344.75" r="0.45" fill="#999"/>
<circle cx="380.84" cy="347.17" r="0.45" fill="#a0787c"/>
<circle cx="437.84" cy="341.63" r="0.45" fill="#555"/>
<circle cx="467.48" cy="347.05" r="0.45" fill="#777"/>
<circle cx="424.25" cy="341.02" r="0.45" fill="#555"/>
<circle cx="391.77" cy="343.79" r="0.45" fill="#555"/>
<circle cx="416.5" cy="347.86" r="0.45" fill="#999"/>
<circle cx="465.68" cy="345.53" r="0.45" fill="#555"/>
<circle cx="403.14" cy="347.89" r="0.45" fill="#777"/>
<circle cx="381.52" cy="345.34" r="0.45" fill="#999"/>
<circle cx="472.5" cy="346.98" r="0.45" fill="#a0787c"/>
<circle cx="385.66" cy="347.86" r="0.45" fill="#999"/>
<circle cx="426.61" cy="346.22" r="0.45" fill="#999"/>
<circle cx="392.96" cy="343.88" r="0.45" fill="#555"/>
<circle cx="458.43" cy="344.18" r="0.45" fill="#a0787c"/>
<circle cx="471.21" cy="347.41" r="0.45" fill="#999"/>
<circle cx="474.82" cy="346.41" r="0.45" fill="#777"/>
<circle cx="420.82" cy="343.92" r="0.45" fill="#b08890"/>
<circle cx="414" cy="343.84" r="0.45" fill="#999"/>
<circle cx="409.49" cy="346.1" r="0.45" fill="#a0787c"/>
<circle cx="439.83" cy="342.85" r="0.45" fill="#a0787c"/>
<circle cx="385.77" cy="347.01" r="0.45" fill="#555"/>
<circle cx="396.72" cy="346.63" r="0.45" fill="#999"/>
<circle cx="444.56" cy="344.61" r="0.45" fill="#555"/>
<circle cx="413.11" cy="345.16" r="0.45" fill="#a0787c"/>
<circle cx="400.7" cy="347.02" r="0.45" fill="#b08890"/>
<circle cx="455.6" cy="345.09" r="0.45" fill="#a0787c"/>
<circle cx="426.12" cy="346.5" r="0.45" fill="#999"/>
<circle cx="454.87" cy="347.21" r="0.45" fill="#a0787c"/>
<circle cx="450.26" cy="345.52" r="0.45" fill="#999"/>
<circle cx="469.93" cy="347.56" r="0.45" fill="#999"/>
<circle cx="384.12" cy="346.5" r="0.45" fill="#777"/>
<circle cx="412.2" cy="347.09" r="0.45" fill="#a0787c"/>
<circle cx="443.62" cy="342.54" r="0.45" fill="#b08890"/>
<circle cx="429.61" cy="342.77" r="0.45" fill="#999"/>
<circle cx="399.79" cy="345.48" r="0.45" fill="#a0787c"/>
<circle cx="435.6" cy="343.83" r="0.45" fill="#777"/>
<circle cx="380.93" cy="344.37" r="0.45" fill="#555"/>
<circle cx="407.29" cy="344.35" r="0.45" fill="#a0787c"/>
<circle cx="469" cy="347.48" r="0.45" fill="#555"/>
<circle cx="406.74" cy="346.51" r="0.45" fill="#777"/>
<circle cx="397.55" cy="346.11" r="0.45" fill="#777"/>
<circle cx="453.32" cy="346.28" r="0.45" fill="#b08890"/>
<circle cx="407.3" cy="345.56" r="0.45" fill="#999"/>
<circle cx="382.57" cy="346.51" r="0.45" fill="#555"/>
<circle cx="424.44" cy="341.48" r="0.45" fill="#b08890"/>
<circle cx="393.17" cy="345.66" r="0.45" fill="#b08890"/>
<circle cx="421.46" cy="346.77" r="0.45" fill="#555"/>
<circle cx="471.74" cy="347.45" r="0.45" fill="#555"/>
<circle cx="416.49" cy="345.48" r="0.45" fill="#a0787c"/>
<circle cx="422.86" cy="344.79" r="0.45" fill="#777"/>
<circle cx="474.48" cy="346.58" r="0.45" fill="#555"/>
<circle cx="467.31" cy="347.89" r="0.45" fill="#a0787c"/>
<circle cx="474.97" cy="346.35" r="0.45" fill="#777"/>
<circle cx="454.57" cy="344.77" r="0.45" fill="#999"/>
<circle cx="445.7" cy="347.75" r="0.45" fill="#777"/>
<circle cx="382.75" cy="347.39" r="0.45" fill="#777"/>
<circle cx="444.41" cy="342.14" r="0.45" fill="#777"/>
<circle cx="412.36" cy="347.31" r="0.45" fill="#777"/>
<circle cx="424.5" cy="347.47" r="0.45" fill="#555"/>
<circle cx="410.81" cy="345.59" r="0.45" fill="#777"/>
<circle cx="442.43" cy="344.13" r="0.45" fill="#b08890"/>
<circle cx="417.38" cy="347.8" r="0.45" fill="#a0787c"/>
<circle cx="383.24" cy="343.43" r="0.45" fill="#a0787c"/>
<circle cx="393.74" cy="344.84" r="0.45" fill="#b08890"/>
<circle cx="389.27" cy="346.16" r="0.45" fill="#a0787c"/>
<circle cx="431" cy="347.93" r="0.45" fill="#999"/>
<circle cx="432.62" cy="344.97" r="0.45" fill="#555"/>
<circle cx="443.38" cy="340.04" r="0.45" fill="#555"/>
<circle cx="399.41" cy="346.84" r="0.45" fill="#555"/>
<circle cx="404.96" cy="347.91" r="0.45" fill="#a0787c"/>
<circle cx="471.75" cy="347.68" r="0.45" fill="#999"/>
<circle cx="472.43" cy="346.37" r="0.45" fill="#777"/>
<circle cx="434.18" cy="342.7" r="0.45" fill="#777"/>
<circle cx="388.73" cy="347.58" r="0.45" fill="#a0787c"/>
<circle cx="415.09" cy="346.35" r="0.45" fill="#555"/>
<circle cx="389.2" cy="346.06" r="0.45" fill="#777"/>
<circle cx="385.79" cy="346.74" r="0.45" fill="#b08890"/>
<circle cx="395.22" cy="345.94" r="0.45" fill="#777"/>
<circle cx="467.91" cy="346.98" r="0.45" fill="#999"/>
<circle cx="450.86" cy="345.76" r="0.45" fill="#777"/>
<circle cx="475.46" cy="347.78" r="0.45" fill="#999"/>
<circle cx="407.12" cy="347.41" r="0.45" fill="#b08890"/>
<circle cx="421.53" cy="345.72" r="0.45" fill="#555"/>
<circle cx="466.28" cy="346.57" r="0.45" fill="#777"/>
<circle cx="420.46" cy="342" r="0.45" fill="#999"/>
<circle cx="386.38" cy="345.84" r="0.45" fill="#777"/>
<circle cx="386.26" cy="347.35" r="0.45" fill="#555"/>
<circle cx="458.28" cy="346.58" r="0.45" fill="#555"/>
<circle cx="410.28" cy="346.18" r="0.45" fill="#555"/>
<circle cx="418.23" cy="342.42" r="0.45" fill="#a0787c"/>
<circle cx="396.55" cy="345.99" r="0.45" fill="#555"/>
<circle cx="403.73" cy="347.34" r="0.45" fill="#b08890"/>
<circle cx="436.56" cy="342.42" r="0.45" fill="#b08890"/>
<circle cx="390" cy="344.63" r="0.45" fill="#777"/>
<circle cx="475.27" cy="347.87" r="0.45" fill="#555"/>
<circle cx="431.63" cy="347.36" r="0.45" fill="#777"/>
<circle cx="399.41" cy="346.95" r="0.45" fill="#a0787c"/>
<circle cx="407.85" cy="347.49" r="0.45" fill="#b08890"/>
<circle cx="443.14" cy="341.04" r="0.45" fill="#b08890"/>
<circle cx="455.76" cy="345.14" r="0.45" fill="#a0787c"/>
<circle cx="460.43" cy="347.33" r="0.45" fill="#555"/>
<circle cx="419.95" cy="344.38" r="0.45" fill="#a0787c"/>
<circle cx="395.94" cy="344.52" r="0.45" fill="#b08890"/>
<circle cx="439.75" cy="345.45" r="0.45" fill="#a0787c"/>
<circle cx="472.08" cy="347.88" r="0.45" fill="#b08890"/>
<circle cx="429.92" cy="347.32" r="0.45" fill="#b08890"/>
<circle cx="448.51" cy="345.74" r="0.45" fill="#b08890"/>
<circle cx="396.65" cy="343.53" r="0.45" fill="#b08890"/>
<circle cx="452.22" cy="347.81" r="0.45" fill="#b08890"/>
<circle cx="473.4" cy="346.05" r="0.45" fill="#777"/>
<circle cx="395.87" cy="347.99" r="0.45" fill="#999"/>
<circle cx="448.2" cy="346.95" r="0.45" fill="#999"/>
<circle cx="471.18" cy="345.72" r="0.45" fill="#999"/>
<circle cx="469.11" cy="346.36" r="0.45" fill="#555"/>
<circle cx="439.65" cy="347.59" r="0.45" fill="#555"/>
<circle cx="409.95" cy="347.8" r="0.45" fill="#a0787c"/>
<circle cx="424.3" cy="343.17" r="0.45" fill="#777"/>
<circle cx="396.1" cy="347.57" r="0.45" fill="#555"/>
<circle cx="387.82" cy="346.98" r="0.45" fill="#999"/>
<circle cx="380.87" cy="345.07" r="0.45" fill="#a0787c"/>
<circle cx="451.92" cy="345.56" r="0.45" fill="#777"/>
<circle cx="461.76" cy="347.35" r="0.45" fill="#555"/>
<circle cx="454.45" cy="341.63" r="0.45" fill="#777"/>
<circle cx="404.58" cy="346.91" r="0.45" fill="#777"/>
<circle cx="428.32" cy="346.88" r="0.45" fill="#a0787c"/>
<circle cx="474.69" cy="346.74" r="0.45" fill="#a0787c"/>
<circle cx="448.24" cy="345.88" r="0.45" fill="#999"/>
<circle cx="406.14" cy="345.9" r="0.45" fill="#555"/>
<circle cx="439.37" cy="342.05" r="0.45" fill="#a0787c"/>
<circle cx="429" cy="341.77" r="0.45" fill="#b08890"/>
<circle cx="468.64" cy="345.65" r="0.45" fill="#999"/>
<circle cx="393.2" cy="345.94" r="0.45" fill="#999"/>
<circle cx="433.55" cy="344.57" r="0.45" fill="#555"/>
<circle cx="388.33" cy="346.4" r="0.45" fill="#999"/>
<circle cx="443.27" cy="346.14" r="0.45" fill="#b08890"/>
<circle cx="467.62" cy="345.15" r="0.45" fill="#999"/>
<circle cx="447.12" cy="343.82" r="0.45" fill="#999"/>
<circle cx="386.16" cy="347.52" r="0.45" fill="#777"/>
<circle cx="419.68" cy="346.33" r="0.45" fill="#555"/>
<circle cx="403.18" cy="345.31" r="0.45" fill="#777"/>
<circle cx="439.72" cy="344.21" r="0.45" fill="#a0787c"/>
<circle cx="392.59" cy="347.26" r="0.45" fill="#b08890"/>
<circle cx="444.01" cy="341.72" r="0.45" fill="#777"/>
<circle cx="407.55" cy="347.24" r="0.45" fill="#a0787c"/>
<circle cx="432.03" cy="344" r="0.45" fill="#555"/>
<circle cx="435.6" cy="343.06" r="0.45" fill="#a0787c"/>
<circle cx="465.75" cy="345.49" r="0.45" fill="#777"/>
<circle cx="431.19" cy="342.01" r="0.45" fill="#777"/>
<circle cx="446.27" cy="343.64" r="0.45" fill="#777"/>
<circle cx="463.2" cy="346.66" r="0.45" fill="#555"/>
<circle cx="451.11" cy="344.52" r="0.45" fill="#555"/>
<circle cx="463.36" cy="347.83" r="0.45" fill="#777"/>
<circle cx="409.39" cy="347.3" r="0.45" fill="#999"/>
<circle cx="433.33" cy="339.32" r="0.45" fill="#b08890"/>
<circle cx="400.07" cy="345.58" r="0.45" fill="#555"/>
<circle cx="387.97" cy="346.97" r="0.45" fill="#777"/>
<circle cx="450.34" cy="345.79" r="0.45" fill="#999"/>
<circle cx="438.04" cy="344.11" r="0.45" fill="#999"/>
<circle cx="394.07" cy="345.23" r="0.45" fill="#555"/>
<circle cx="415.74" cy="343.92" r="0.45" fill="#555"/>
<circle cx="471.21" cy="347.42" r="0.45" fill="#b08890"/>
<circle cx="429.6" cy="274.3" r="0.5" fill="#8a7075"/>
<circle cx="428" cy="286.6" r="0.5" fill="#8a7075"/>
<circle cx="422" cy="338" r="0.5" fill="#8a7075"/>
<circle cx="425" cy="333" r="0.5" fill="#8a7075"/>
<circle cx="436" cy="335" r="0.5" fill="#8a7075"/>
<circle cx="440" cy="328" r="0.5" fill="#8a7075"/>
<circle cx="426" cy="330" r="0.5" fill="#8a7075"/>
<circle cx="430" cy="322" r="0.5" fill="#8a7075"/>
<circle cx="415" cy="342" r="0.5" fill="#8a7075"/>
<circle cx="401" cy="337" r="0.5" fill="#8a7075"/>
<circle cx="445" cy="340" r="0.5" fill="#8a7075"/>
<circle cx="389" cy="343" r="0.5" fill="#8a7075"/>
<circle cx="427" cy="343" r="0.5" fill="#8a7075"/>
<circle cx="420" cy="345" r="0.5" fill="#8a7075"/>
<circle cx="423" cy="344" r="1" fill="#c03048"/>
<text x="450.8" y="305.2" font-size="6.8">TP53</text>
<line x1="452.2" y1="306.4" x2="423.5" y2="341.2" stroke="#222" stroke-width="0.8" marker-end="url(#ah)"/>
<text x="12.2" y="424.6" font-size="12" font-weight="bold" fill="#000">I</text>
<line x1="58.4" y1="433" x2="58.4" y2="504.6" stroke="#222" stroke-width="0.9"/>
<line x1="55.4" y1="504.2" x2="58.4" y2="504.2" stroke="#222" stroke-width="0.8"/>
<text x="53.4" y="506.7" font-size="7" text-anchor="end">0.0</text>
<line x1="55.4" y1="487.05" x2="58.4" y2="487.05" stroke="#222" stroke-width="0.8"/>
<text x="53.4" y="489.55" font-size="7" text-anchor="end">0.5</text>
<line x1="55.4" y1="469.9" x2="58.4" y2="469.9" stroke="#222" stroke-width="0.8"/>
<text x="53.4" y="472.4" font-size="7" text-anchor="end">1.0</text>
<line x1="55.4" y1="452.75" x2="58.4" y2="452.75" stroke="#222" stroke-width="0.8"/>
<text x="53.4" y="455.25" font-size="7" text-anchor="end">1.5</text>
<line x1="55.4" y1="435.6" x2="58.4" y2="435.6" stroke="#222" stroke-width="0.8"/>
<text x="53.4" y="438.1" font-size="7" text-anchor="end">2.0</text>
<rect x="63.5" y="491.7" width="8.6" height="12.5" fill="#1f4e8c"/>
<line x1="67.8" y1="491.7" x2="67.8" y2="488.8" stroke="#1f4e8c" stroke-width="0.9"/>
<line x1="66" y1="488.8" x2="69.6" y2="488.8" stroke="#1f4e8c" stroke-width="0.9"/>
<rect x="76" y="503.4" width="8.6" height="0.8" fill="#3aa935"/>
<line x1="80.3" y1="503.4" x2="80.3" y2="502.6" stroke="#3aa935" stroke-width="0.9"/>
<line x1="78.5" y1="502.6" x2="82.1" y2="502.6" stroke="#3aa935" stroke-width="0.9"/>
<rect x="90.4" y="498" width="8.6" height="6.2" fill="#9a8ecb"/>
<line x1="94.7" y1="498" x2="94.7" y2="494.2" stroke="#9a8ecb" stroke-width="0.9"/>
<line x1="92.9" y1="494.2" x2="96.5" y2="494.2" stroke="#9a8ecb" stroke-width="0.9"/>
<rect x="112.5" y="461.2" width="8.3" height="43" fill="#1f4e8c"/>
<line x1="116.65" y1="461.2" x2="116.65" y2="457.5" stroke="#1f4e8c" stroke-width="0.9"/>
<line x1="114.85" y1="457.5" x2="118.45" y2="457.5" stroke="#1f4e8c" stroke-width="0.9"/>
<rect x="125.6" y="493.1" width="8.2" height="11.1" fill="#3aa935"/>
<line x1="129.7" y1="493.1" x2="129.7" y2="489.6" stroke="#3aa935" stroke-width="0.9"/>
<line x1="127.9" y1="489.6" x2="131.5" y2="489.6" stroke="#3aa935" stroke-width="0.9"/>
<rect x="139" y="500.2" width="8.3" height="4" fill="#9a8ecb"/>
<line x1="143.15" y1="500.2" x2="143.15" y2="498.8" stroke="#9a8ecb" stroke-width="0.9"/>
<line x1="141.35" y1="498.8" x2="144.95" y2="498.8" stroke="#9a8ecb" stroke-width="0.9"/>
<line x1="58" y1="504.5" x2="151.5" y2="504.5" stroke="#222" stroke-width="0.9"/>
<line x1="81" y1="504.5" x2="81" y2="506.5" stroke="#222" stroke-width="0.8"/>
<line x1="130" y1="504.5" x2="130" y2="506.5" stroke="#222" stroke-width="0.8"/>
<line x1="64.4" y1="507.8" x2="99" y2="507.8" stroke="#333" stroke-width="0.7"/>
<line x1="113" y1="507.8" x2="145.8" y2="507.8" stroke="#333" stroke-width="0.7"/>
<text x="80.8" y="516.2" font-size="6.5" text-anchor="middle">CUTLL-1</text>
<text x="130.4" y="516.2" font-size="6.5" text-anchor="middle">TALL-1</text>
<line x1="67.3" y1="486" x2="80.8" y2="486" stroke="#444" stroke-width="0.9"/>
<text x="74.05" y="485.4" font-size="7" text-anchor="middle" fill="#333">***</text>
<line x1="67.3" y1="476" x2="94.2" y2="476" stroke="#444" stroke-width="0.9"/>
<text x="80.75" y="475.4" font-size="7" text-anchor="middle" fill="#333">*</text>
<line x1="116.5" y1="454" x2="129.4" y2="454" stroke="#444" stroke-width="0.9"/>
<text x="122.95" y="453.4" font-size="7" text-anchor="middle" fill="#333">***</text>
<line x1="116.5" y1="443.8" x2="142.9" y2="443.8" stroke="#444" stroke-width="0.9"/>
<text x="129.7" y="443.2" font-size="7" text-anchor="middle" fill="#333">***</text>
<text x="28.6" y="468.5" font-size="7.6" text-anchor="middle" transform="rotate(-90 28.6 468.5)" textLength="75" lengthAdjust="spacingAndGlyphs">&#916;133p53/ FSp53&#945; ratio</text>
<text x="37.6" y="468.5" font-size="7.6" text-anchor="middle" transform="rotate(-90 37.6 468.5)" textLength="63" lengthAdjust="spacingAndGlyphs">(normalized to B2M)</text>
<rect x="154.3" y="455.9" width="5.2" height="5.2" fill="#1f4e8c"/>
<text x="162.6" y="460.8" font-size="6.6">shScramble</text>
<rect x="154.3" y="465.9" width="5.2" height="5.2" fill="#3aa935"/>
<text x="162.6" y="470.8" font-size="6.6">shHES4_1</text>
<rect x="154.3" y="475.4" width="5.2" height="5.2" fill="#9a8ecb"/>
<text x="162.6" y="480.3" font-size="6.6">shHES4_2</text>
<text x="214.4" y="424.6" font-size="12" font-weight="bold" fill="#000">J</text>
<line x1="271.9" y1="437.5" x2="271.9" y2="509.1" stroke="#222" stroke-width="0.9"/>
<line x1="268.6" y1="508.9" x2="271.9" y2="508.9" stroke="#222" stroke-width="0.8"/>
<text x="263" y="511.4" font-size="7.2" text-anchor="end">0.0</text>
<line x1="268.6" y1="491.65" x2="271.9" y2="491.65" stroke="#222" stroke-width="0.8"/>
<text x="263" y="494.15" font-size="7.2" text-anchor="end">0.5</text>
<line x1="268.6" y1="474.4" x2="271.9" y2="474.4" stroke="#222" stroke-width="0.8"/>
<text x="263" y="476.9" font-size="7.2" text-anchor="end">1.0</text>
<line x1="268.6" y1="457.15" x2="271.9" y2="457.15" stroke="#222" stroke-width="0.8"/>
<text x="263" y="459.65" font-size="7.2" text-anchor="end">1.5</text>
<line x1="268.6" y1="439.9" x2="271.9" y2="439.9" stroke="#222" stroke-width="0.8"/>
<text x="263" y="442.4" font-size="7.2" text-anchor="end">2.0</text>
<line x1="271.5" y1="508.8" x2="410.8" y2="508.8" stroke="#222" stroke-width="0.9"/>
<rect x="277" y="497" width="8.3" height="11.8" fill="#cfcfd2"/>
<line x1="281.15" y1="497" x2="281.15" y2="493" stroke="#cfcfd2" stroke-width="0.9"/>
<line x1="279.35" y1="493" x2="282.95" y2="493" stroke="#cfcfd2" stroke-width="0.9"/>
<rect x="290" y="467" width="8.2" height="41.8" fill="#6e3a12"/>
<line x1="294.1" y1="467" x2="294.1" y2="462" stroke="#6e3a12" stroke-width="0.9"/>
<line x1="292.3" y1="462" x2="295.9" y2="462" stroke="#6e3a12" stroke-width="0.9"/>
<line x1="287.6" y1="508.8" x2="287.6" y2="511.5" stroke="#222" stroke-width="0.8"/>
<rect x="313" y="504.5" width="8.3" height="4.3" fill="#cfcfd2"/>
<line x1="317.15" y1="504.5" x2="317.15" y2="503.3" stroke="#cfcfd2" stroke-width="0.9"/>
<line x1="315.35" y1="503.3" x2="318.95" y2="503.3" stroke="#cfcfd2" stroke-width="0.9"/>
<rect x="326.2" y="465.5" width="8.2" height="43.3" fill="#6e3a12"/>
<line x1="330.3" y1="465.5" x2="330.3" y2="461.8" stroke="#6e3a12" stroke-width="0.9"/>
<line x1="328.5" y1="461.8" x2="332.1" y2="461.8" stroke="#6e3a12" stroke-width="0.9"/>
<line x1="323.7" y1="508.8" x2="323.7" y2="511.5" stroke="#222" stroke-width="0.8"/>
<rect x="348.8" y="489.5" width="8.3" height="19.3" fill="#cfcfd2"/>
<line x1="352.95" y1="489.5" x2="352.95" y2="483.3" stroke="#cfcfd2" stroke-width="0.9"/>
<line x1="351.15" y1="483.3" x2="354.75" y2="483.3" stroke="#cfcfd2" stroke-width="0.9"/>
<rect x="362" y="461.2" width="8.2" height="47.6" fill="#6e3a12"/>
<line x1="366.1" y1="461.2" x2="366.1" y2="452" stroke="#6e3a12" stroke-width="0.9"/>
<line x1="364.3" y1="452" x2="367.9" y2="452" stroke="#6e3a12" stroke-width="0.9"/>
<line x1="359.5" y1="508.8" x2="359.5" y2="511.5" stroke="#222" stroke-width="0.8"/>
<rect x="384.4" y="486.7" width="8.3" height="22.1" fill="#cfcfd2"/>
<line x1="388.55" y1="486.7" x2="388.55" y2="484.4" stroke="#cfcfd2" stroke-width="0.9"/>
<line x1="386.75" y1="484.4" x2="390.35" y2="484.4" stroke="#cfcfd2" stroke-width="0.9"/>
<rect x="398.3" y="471.7" width="8.2" height="37.1" fill="#6e3a12"/>
<line x1="402.4" y1="471.7" x2="402.4" y2="467.5" stroke="#6e3a12" stroke-width="0.9"/>
<line x1="400.6" y1="467.5" x2="404.2" y2="467.5" stroke="#6e3a12" stroke-width="0.9"/>
<line x1="395.45" y1="508.8" x2="395.45" y2="511.5" stroke="#222" stroke-width="0.8"/>
<line x1="280.5" y1="455.8" x2="294.5" y2="455.8" stroke="#444" stroke-width="0.9"/>
<text x="287.5" y="455.2" font-size="7" text-anchor="middle" fill="#333">***</text>
<line x1="317" y1="455" x2="330.8" y2="455" stroke="#444" stroke-width="0.9"/>
<text x="323.9" y="454.4" font-size="7" text-anchor="middle" fill="#333">***</text>
<line x1="352.5" y1="447.5" x2="366.3" y2="447.5" stroke="#444" stroke-width="0.9"/>
<text x="359.4" y="446.9" font-size="7" text-anchor="middle" fill="#333">**</text>
<line x1="388" y1="460.6" x2="402.1" y2="460.6" stroke="#444" stroke-width="0.9"/>
<text x="395.05" y="460" font-size="7" text-anchor="middle" fill="#333">***</text>
<text x="287.5" y="521.1" font-size="6.5" text-anchor="middle">DND-41</text>
<text x="323" y="521.1" font-size="6.5" text-anchor="middle">ALL-SIL</text>
<text x="360" y="521.1" font-size="6.5" text-anchor="middle">PDX#1</text>
<text x="360" y="528.6" font-size="6.5" text-anchor="middle">(D115-1)</text>
<text x="395" y="521.1" font-size="6.5" text-anchor="middle">PDX#2</text>
<text x="395" y="528.9" font-size="6.5" text-anchor="middle">(H3255-1)</text>
<text x="231.6" y="468.2" font-size="7.6" text-anchor="middle" transform="rotate(-90 231.6 468.2)" textLength="75" lengthAdjust="spacingAndGlyphs">&#916;133p53/ FSp53&#945; ratio</text>
<text x="240.5" y="468.6" font-size="7.6" text-anchor="middle" transform="rotate(-90 240.5 468.6)" textLength="63" lengthAdjust="spacingAndGlyphs">(normalized to B2M)</text>
<rect x="419.4" y="431.3" width="5.2" height="5.2" fill="#cfcfd2"/>
<text x="427.8" y="436.2" font-size="6.6">Empty V.</text>
<rect x="419.4" y="441.9" width="5.2" height="5.2" fill="#6e3a12"/>
<text x="427.8" y="446.8" font-size="6.6">HES4</text>
<text x="10.3" y="556.6" font-size="12" font-weight="bold" fill="#000">K</text>
<text x="62.3" y="568.2" font-size="6.5" text-anchor="middle">DND-41</text>
<text x="104.6" y="568.2" font-size="6.5" text-anchor="middle">ALL-SIL</text>
<line x1="45.2" y1="572.3" x2="80.4" y2="572.3" stroke="#444" stroke-width="0.8"/>
<line x1="86.8" y1="572.3" x2="121" y2="572.3" stroke="#444" stroke-width="0.8"/>
<text x="73.8" y="579" font-size="6.3" text-anchor="end" transform="rotate(-45 73.8 579)">Empty V.</text>
<text x="81.8" y="586" font-size="6.3" text-anchor="end" transform="rotate(-45 81.8 586)">HES4</text>
<text x="114.8" y="578" font-size="6.3" text-anchor="end" transform="rotate(-45 114.8 578)">Empty V.</text>
<text x="122.8" y="586" font-size="6.3" text-anchor="end" transform="rotate(-45 122.8 586)">HES4</text>
<defs><filter id="bb" x="-20%" y="-100%" width="140%" height="300%"><feGaussianBlur stdDeviation="0.55"/></filter><filter id="bb2" x="-20%" y="-20%" width="140%" height="140%"><feGaussianBlur stdDeviation="0.8"/></filter></defs>
<rect x="48.5" y="599.5" width="13.8" height="49.7" fill="#e5e5e5"/>
<rect x="62.3" y="599.5" width="15.3" height="49.7" fill="#eeeeee"/>
<g filter="url(#bb)">
<rect x="51" y="613.5" width="10.2" height="2.6" fill="#1a1a1a"/>
<rect x="52" y="623" width="9" height="1.2" fill="#b0b0b0"/>
<rect x="51.5" y="603.2" width="9" height="1" fill="#cfcfcf"/>
<rect x="65.4" y="627.3" width="9.6" height="1.3" fill="#8a8a8a"/>
<rect x="65.4" y="634.2" width="9.6" height="2.6" fill="#2a2a2a"/>
</g>
<rect x="88.2" y="599.5" width="30.4" height="49.3" fill="#d9d9d9"/>
<rect x="101.8" y="599.5" width="2.4" height="49.3" fill="#e8e8e8"/>
<g filter="url(#bb2)">
<rect x="104.5" y="602" width="13" height="8" fill="#c4c4c4"/>
<rect x="90" y="630" width="11" height="10" fill="#c6c6c6"/>
<rect x="104.5" y="630" width="13" height="14" fill="#b8b8b8"/>
</g><g filter="url(#bb)">
<rect x="91.8" y="611" width="9.5" height="2.5" fill="#151515"/>
<rect x="106" y="613" width="10.5" height="2.5" fill="#151515"/>
<rect x="106" y="625.3" width="10.5" height="1.5" fill="#707070"/>
<rect x="91.5" y="634" width="9.5" height="3" fill="#9a9a9a"/>
<rect x="106" y="635.2" width="10.5" height="2.2" fill="#4a4a4a"/>
<rect x="106" y="639.6" width="10.5" height="2" fill="#5a5a5a"/>
</g>
<rect x="48.5" y="659.8" width="29.1" height="14.8" fill="#e0e0e0"/>
<rect x="88.2" y="659.8" width="30.4" height="14.8" fill="#e4e4e4"/>
<g filter="url(#bb)">
<rect x="48.9" y="664.8" width="12.2" height="5" fill="#0e0e0e"/>
<rect x="63.3" y="664.8" width="13.7" height="5" fill="#0e0e0e"/>
<rect x="90.3" y="666.4" width="11" height="2.2" fill="#1a1a1a"/>
<rect x="105" y="666.4" width="11.5" height="2.2" fill="#1a1a1a"/>
</g>
<text x="43.2" y="617.4" font-size="6.6" text-anchor="end">TAp53</text>
<text x="43.2" y="640.4" font-size="6.6" text-anchor="end">&#916;133p53</text>
<text x="43.2" y="669.6" font-size="6.6" text-anchor="end">&#946;-Actin</text>
<text x="122.5" y="617.7" font-size="6.6">55 kDa</text>
<text x="122.5" y="640.5" font-size="6.6">35 kDa</text>
<text x="159.6" y="556.4" font-size="12" font-weight="bold" fill="#000">L</text>
<text x="264.6" y="560" font-size="8.5" text-anchor="middle" textLength="19.2" lengthAdjust="spacingAndGlyphs">TP53</text>
<line x1="193.9" y1="576.8" x2="394.6" y2="576.8" stroke="#9a9a9a" stroke-width="0.9"/>
<rect x="218.6" y="574.6" width="4.8" height="4" fill="#111"/>
<rect x="227.1" y="575.1" width="0.8" height="3" fill="#111"/>
<rect x="238.3" y="574.8" width="2.1" height="3.6" fill="#111"/>
<rect x="241.6" y="574.8" width="1.2" height="3.6" fill="#111"/>
<rect x="244.6" y="574.5" width="3.4" height="4.2" fill="#111"/>
<rect x="249.6" y="574.9" width="1" height="3.4" fill="#111"/>
<rect x="291.2" y="575.4" width="0.7" height="2.4" fill="#111"/>
<rect x="296.1" y="574.6" width="6.4" height="4" fill="#111"/>
<rect x="303.3" y="574.8" width="1" height="3.6" fill="#111"/>
<rect x="305.6" y="574.8" width="1.2" height="3.6" fill="#111"/>
<rect x="351.5" y="574.4" width="4" height="4.4" fill="#111"/>
<rect x="356" y="574.4" width="2.5" height="4.4" fill="#111"/>
<rect x="359.5" y="574.4" width="3.5" height="4.4" fill="#111"/>
<rect x="370" y="575.1" width="1.5" height="3" fill="#111"/>
<rect x="380.8" y="574.9" width="1.5" height="3.4" fill="#111"/>
<rect x="383" y="574.9" width="0.8" height="3.4" fill="#111"/>
<rect x="386.2" y="574.4" width="8.4" height="4.4" fill="#111"/>
<path d="M246.5,575 L246.5,570.1 L241,570.1" fill="none" stroke="#222" stroke-width="0.8" marker-end="url(#ah)"/>
<text x="237.4" y="572.2" font-size="6.6" text-anchor="end" textLength="24.8" lengthAdjust="spacingAndGlyphs">&#916;133p53</text>
<path d="M300.8,575 L300.8,569.2" fill="none" stroke="#222" stroke-width="0.8"/>
<line x1="300.8" y1="569.2" x2="294" y2="569.2" stroke="#222" stroke-width="0.8" marker-end="url(#ah)"/>
<line x1="300.8" y1="569.2" x2="308" y2="569.2" stroke="#222" stroke-width="0.8" marker-end="url(#ah)"/>
<text x="292" y="571.2" font-size="6.5" text-anchor="end" textLength="19.9" lengthAdjust="spacingAndGlyphs">TAp53</text>
<text x="312" y="571.2" font-size="6.5" textLength="26" lengthAdjust="spacingAndGlyphs">WRAP53</text>
<path d="M245.2,582.5 l1.4,-1 l0,0.6 l0.9,0 l0,0.9 l-0.9,0 l0,0.6 z" fill="#111"/>
<path d="M247.6,584.5 l-1.4,-1 l0,0.6 l-0.9,0 l0,0.9 l0.9,0 l0,0.6 z" fill="#111"/>
<path d="M295.7,582.5 l1.4,-1 l0,0.6 l0.9,0 l0,0.9 l-0.9,0 l0,0.6 z" fill="#111"/>
<path d="M298.1,584.5 l-1.4,-1 l0,0.6 l-0.9,0 l0,0.9 l0.9,0 l0,0.6 z" fill="#111"/>
<path d="M301.3,582.5 l1.4,-1 l0,0.6 l0.9,0 l0,0.9 l-0.9,0 l0,0.6 z" fill="#111"/>
<path d="M303.7,584.5 l-1.4,-1 l0,0.6 l-0.9,0 l0,0.9 l0.9,0 l0,0.6 z" fill="#111"/>
<path d="M367.4,582.5 l1.4,-1 l0,0.6 l0.9,0 l0,0.9 l-0.9,0 l0,0.6 z" fill="#111"/>
<path d="M369.8,584.5 l-1.4,-1 l0,0.6 l-0.9,0 l0,0.9 l0.9,0 l0,0.6 z" fill="#111"/>
<text x="245.8" y="592.6" font-size="6.5" text-anchor="middle">P1</text>
<text x="292.3" y="593.5" font-size="6.5" text-anchor="middle">P2a</text>
<text x="306.4" y="593.5" font-size="6.5" text-anchor="middle">P2b</text>
<text x="369.5" y="593.8" font-size="6.5" text-anchor="middle">P3</text>
<text x="239.6" y="606.5" font-size="6.3" text-anchor="middle">ChIP &#8211; HES4</text>
<text x="390.2" y="607.3" font-size="6.3" text-anchor="middle" textLength="49.6" lengthAdjust="spacingAndGlyphs">ChIP &#8211; RNA PolII</text>
<line x1="194.5" y1="614.5" x2="194.5" y2="668.8" stroke="#222" stroke-width="0.9"/>
<line x1="191.6" y1="668.5" x2="194.5" y2="668.5" stroke="#222" stroke-width="0.8"/>
<text x="190.8" y="671" font-size="7" text-anchor="end">0</text>
<line x1="191.6" y1="651.58" x2="194.5" y2="651.58" stroke="#222" stroke-width="0.8"/>
<text x="190.8" y="654.08" font-size="7" text-anchor="end">10</text>
<line x1="191.6" y1="634.66" x2="194.5" y2="634.66" stroke="#222" stroke-width="0.8"/>
<text x="190.8" y="637.16" font-size="7" text-anchor="end">20</text>
<line x1="191.6" y1="617.74" x2="194.5" y2="617.74" stroke="#222" stroke-width="0.8"/>
<text x="190.8" y="620.24" font-size="7" text-anchor="end">30</text>
<line x1="194.1" y1="668.5" x2="286" y2="668.5" stroke="#222" stroke-width="0.9"/>
<line x1="205" y1="668.5" x2="205" y2="671" stroke="#222" stroke-width="0.8"/>
<line x1="227.7" y1="668.5" x2="227.7" y2="671" stroke="#222" stroke-width="0.8"/>
<line x1="251" y1="668.5" x2="251" y2="671" stroke="#222" stroke-width="0.8"/>
<line x1="274.5" y1="668.5" x2="274.5" y2="671" stroke="#222" stroke-width="0.8"/>
<rect x="198" y="668.2" width="4.3" height="0.3" fill="#cfcfd2"/>
<rect x="206.5" y="668.1" width="5" height="0.4" fill="#6e3a12"/>
<rect x="221.3" y="664.9" width="4.3" height="3.6" fill="#cfcfd2"/>
<line x1="223.45" y1="664.9" x2="223.45" y2="663.8" stroke="#cfcfd2" stroke-width="0.9"/>
<line x1="221.65" y1="663.8" x2="225.25" y2="663.8" stroke="#cfcfd2" stroke-width="0.9"/>
<rect x="229.8" y="659" width="5.3" height="9.5" fill="#6e3a12"/>
<line x1="232.45" y1="659" x2="232.45" y2="657.5" stroke="#6e3a12" stroke-width="0.9"/>
<line x1="230.65" y1="657.5" x2="234.25" y2="657.5" stroke="#6e3a12" stroke-width="0.9"/>
<rect x="244.6" y="666" width="4.3" height="2.5" fill="#cfcfd2"/>
<line x1="246.75" y1="666" x2="246.75" y2="663.4" stroke="#cfcfd2" stroke-width="0.9"/>
<line x1="244.95" y1="663.4" x2="248.55" y2="663.4" stroke="#cfcfd2" stroke-width="0.9"/>
<rect x="253.1" y="629.3" width="4.6" height="39.2" fill="#6e3a12"/>
<line x1="255.4" y1="629.3" x2="255.4" y2="624" stroke="#6e3a12" stroke-width="0.9"/>
<line x1="253.6" y1="624" x2="257.2" y2="624" stroke="#6e3a12" stroke-width="0.9"/>
<line x1="222" y1="655.1" x2="234" y2="655.1" stroke="#444" stroke-width="0.9"/>
<text x="228" y="654.5" font-size="7" text-anchor="middle" fill="#333">***</text>
<line x1="246.7" y1="623" x2="254" y2="623" stroke="#333" stroke-width="0.8"/>
<line x1="254" y1="623" x2="255.4" y2="624.5" stroke="#333" stroke-width="0.8"/>
<text x="250.6" y="621.8" font-size="6" text-anchor="middle" fill="#333">***</text>
<text x="205" y="681.4" font-size="6.5" text-anchor="middle">P1</text>
<text x="227.7" y="681.4" font-size="6.5" text-anchor="middle">P2a</text>
<text x="251" y="681.4" font-size="6.5" text-anchor="middle">P2b</text>
<text x="274.5" y="681.4" font-size="6.5" text-anchor="middle">P3</text>
<line x1="201.3" y1="685.4" x2="254.1" y2="685.4" stroke="#333" stroke-width="0.7"/>
<text x="228.1" y="694.1" font-size="6.5" text-anchor="middle">TP53</text>
<text x="178.4" y="641.5" font-size="7.8" text-anchor="middle" transform="rotate(-90 178.4 641.5)" textLength="32" lengthAdjust="spacingAndGlyphs">% of input</text>
<rect x="276.4" y="618" width="5.3" height="5.3" fill="#cfcfd2"/>
<text x="285" y="623" font-size="6.8">Empty V.</text>
<rect x="276.4" y="628.5" width="5.3" height="5.3" fill="#6e3a12"/>
<text x="285" y="633.5" font-size="6.8">HES4</text>
<line x1="357.7" y1="614.5" x2="357.7" y2="668.3" stroke="#222" stroke-width="0.9"/>
<line x1="354.8" y1="668" x2="357.7" y2="668" stroke="#222" stroke-width="0.8"/>
<text x="351.2" y="670.5" font-size="7" text-anchor="end">0.0</text>
<line x1="354.8" y1="651.1" x2="357.7" y2="651.1" stroke="#222" stroke-width="0.8"/>
<text x="351.2" y="653.6" font-size="7" text-anchor="end">0.5</text>
<line x1="354.8" y1="634.2" x2="357.7" y2="634.2" stroke="#222" stroke-width="0.8"/>
<text x="351.2" y="636.7" font-size="7" text-anchor="end">1.0</text>
<line x1="354.8" y1="617.3" x2="357.7" y2="617.3" stroke="#222" stroke-width="0.8"/>
<text x="351.2" y="619.8" font-size="7" text-anchor="end">1.5</text>
<line x1="357.3" y1="668" x2="446.2" y2="668" stroke="#222" stroke-width="0.9"/>
<line x1="367" y1="668" x2="367" y2="670.5" stroke="#222" stroke-width="0.8"/>
<line x1="389.8" y1="668" x2="389.8" y2="670.5" stroke="#222" stroke-width="0.8"/>
<line x1="412.7" y1="668" x2="412.7" y2="670.5" stroke="#222" stroke-width="0.8"/>
<line x1="435.5" y1="668" x2="435.5" y2="670.5" stroke="#222" stroke-width="0.8"/>
<rect x="361.3" y="667" width="4.2" height="1" fill="#cfcfd2"/>
<rect x="369" y="649.8" width="5" height="18.2" fill="#6e3a12"/>
<line x1="371.5" y1="649.8" x2="371.5" y2="646.3" stroke="#6e3a12" stroke-width="0.9"/>
<line x1="369.7" y1="646.3" x2="373.3" y2="646.3" stroke="#6e3a12" stroke-width="0.9"/>
<rect x="383.5" y="642" width="4.6" height="26" fill="#cfcfd2"/>
<line x1="385.8" y1="642" x2="385.8" y2="638.8" stroke="#cfcfd2" stroke-width="0.9"/>
<line x1="384" y1="638.8" x2="387.6" y2="638.8" stroke="#cfcfd2" stroke-width="0.9"/>
<rect x="392" y="662.5" width="4.6" height="5.5" fill="#6e3a12"/>
<line x1="394.3" y1="662.5" x2="394.3" y2="661" stroke="#6e3a12" stroke-width="0.9"/>
<line x1="392.5" y1="661" x2="396.1" y2="661" stroke="#6e3a12" stroke-width="0.9"/>
<rect x="406.3" y="630" width="4.7" height="38" fill="#cfcfd2"/>
<line x1="408.65" y1="630" x2="408.65" y2="625" stroke="#cfcfd2" stroke-width="0.9"/>
<line x1="406.85" y1="625" x2="410.45" y2="625" stroke="#cfcfd2" stroke-width="0.9"/>
<rect x="414.8" y="665.7" width="4.6" height="2.3" fill="#6e3a12"/>
<rect x="428.6" y="665.7" width="4.2" height="2.3" fill="#cfcfd2"/>
<line x1="430.7" y1="665.7" x2="430.7" y2="663" stroke="#cfcfd2" stroke-width="0.9"/>
<line x1="428.9" y1="663" x2="432.5" y2="663" stroke="#cfcfd2" stroke-width="0.9"/>
<rect x="437.8" y="665.7" width="4.2" height="2.3" fill="#6e3a12"/>
<line x1="439.9" y1="665.7" x2="439.9" y2="664" stroke="#6e3a12" stroke-width="0.9"/>
<line x1="438.1" y1="664" x2="441.7" y2="664" stroke="#6e3a12" stroke-width="0.9"/>
<line x1="363.4" y1="644.1" x2="371.8" y2="644.1" stroke="#444" stroke-width="0.9"/>
<text x="367.6" y="643.5" font-size="7" text-anchor="middle" fill="#333">***</text>
<line x1="386" y1="637.8" x2="394.5" y2="637.8" stroke="#444" stroke-width="0.9"/>
<text x="390.25" y="637.2" font-size="7" text-anchor="middle" fill="#333">***</text>
<line x1="410" y1="623" x2="417.3" y2="623" stroke="#444" stroke-width="0.9"/>
<text x="413.65" y="622.4" font-size="7" text-anchor="middle" fill="#333">**</text>
<text x="367" y="681.4" font-size="6.5" text-anchor="middle">P1</text>
<text x="389.8" y="681.4" font-size="6.5" text-anchor="middle">P2a</text>
<text x="412.7" y="681.4" font-size="6.5" text-anchor="middle">P2b</text>
<text x="435.5" y="681.4" font-size="6.5" text-anchor="middle">P3</text>
<line x1="363.4" y1="685.4" x2="416.3" y2="685.4" stroke="#333" stroke-width="0.7"/>
<text x="389.8" y="694.1" font-size="6.5" text-anchor="middle">TP53</text>
<text x="338.1" y="641.5" font-size="7.8" text-anchor="middle" transform="rotate(-90 338.1 641.5)" textLength="32" lengthAdjust="spacingAndGlyphs">% of input</text>
<rect x="450.6" y="617.3" width="5.3" height="5.3" fill="#cfcfd2"/>
<text x="458.8" y="622.3" font-size="6.8">Empty V.</text>
<rect x="450.6" y="628" width="5.3" height="5.3" fill="#6e3a12"/>
<text x="458.8" y="633" font-size="6.8">HES4</text>
</g>
<rect x="0.5" y="0.5" width="519" height="700" fill="none" stroke="#4a4a4a" stroke-width="1.2"/>
</svg></body></html>
